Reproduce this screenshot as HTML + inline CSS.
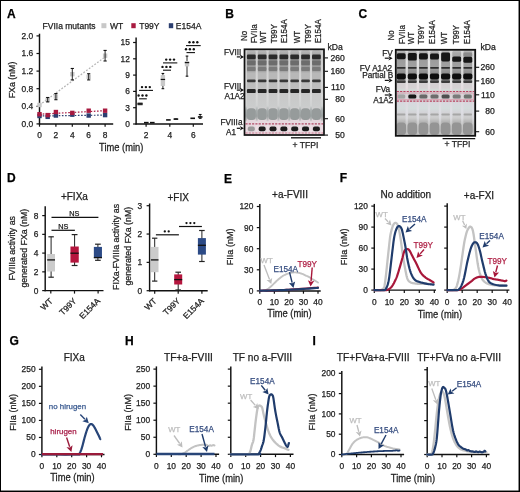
<!DOCTYPE html>
<html><head><meta charset="utf-8"><style>
html,body{margin:0;padding:0;background:#fff;}
body{width:520px;height:492px;overflow:hidden;position:relative;font-family:"Liberation Sans",sans-serif;}
svg{display:block;position:absolute;left:0;top:0;opacity:0.999;}
#frame{position:absolute;left:0;top:0;width:518px;height:490px;border:1px solid #000;}
</style></head><body>
<svg width="520" height="492" viewBox="0 0 520 492" font-family="Liberation Sans, sans-serif">
<defs><filter id="blur1" x="-5%" y="-5%" width="110%" height="110%"><feGaussianBlur stdDeviation="0.55"/></filter><linearGradient id="g1" gradientUnits="userSpaceOnUse" x1="0" y1="49.3" x2="0" y2="135.0"><stop offset="-0.0035" stop-color="#d2d2d2"/><stop offset="0.0898" stop-color="#cccccc"/><stop offset="0.1949" stop-color="#d0d0d0"/><stop offset="0.3582" stop-color="#d6d6d6"/><stop offset="0.4866" stop-color="#d0d0d0"/><stop offset="0.5333" stop-color="#d8d8d8"/><stop offset="0.6616" stop-color="#d0d2d2"/><stop offset="0.7083" stop-color="#a8aeae"/><stop offset="0.7783" stop-color="#9aa0a0"/><stop offset="0.8191" stop-color="#b8baba"/><stop offset="0.8483" stop-color="#ecdee4"/><stop offset="1.0000" stop-color="#ecdee4"/></linearGradient>
<linearGradient id="g2" gradientUnits="userSpaceOnUse" x1="0" y1="49.3" x2="0" y2="135.0"><stop offset="0.0082" stop-color="#bcbcbc"/><stop offset="0.0548" stop-color="#a8a8a8"/><stop offset="0.1249" stop-color="#909090"/><stop offset="0.1949" stop-color="#999999"/><stop offset="0.2532" stop-color="#a0a0a0"/><stop offset="0.2765" stop-color="#b8b8b8"/><stop offset="0.3466" stop-color="#b8b8b8"/><stop offset="0.3932" stop-color="#bcbcbc"/><stop offset="0.4516" stop-color="#bebebe"/><stop offset="0.5216" stop-color="#c8c8c8"/><stop offset="0.6616" stop-color="#cacccc"/><stop offset="0.8366" stop-color="#e6d8de"/><stop offset="1.0000" stop-color="#e6d8de"/></linearGradient>
<linearGradient id="g3" gradientUnits="userSpaceOnUse" x1="0" y1="49.3" x2="0" y2="135.0"><stop offset="0.0082" stop-color="#bcbcbc"/><stop offset="0.0548" stop-color="#a8a8a8"/><stop offset="0.1249" stop-color="#909090"/><stop offset="0.1949" stop-color="#999999"/><stop offset="0.2532" stop-color="#a0a0a0"/><stop offset="0.2765" stop-color="#b8b8b8"/><stop offset="0.3466" stop-color="#b8b8b8"/><stop offset="0.3932" stop-color="#bcbcbc"/><stop offset="0.4516" stop-color="#bebebe"/><stop offset="0.5216" stop-color="#c8c8c8"/><stop offset="0.6616" stop-color="#cacccc"/><stop offset="0.8366" stop-color="#e6d8de"/><stop offset="1.0000" stop-color="#e6d8de"/></linearGradient>
<linearGradient id="g4" gradientUnits="userSpaceOnUse" x1="0" y1="49.3" x2="0" y2="135.0"><stop offset="0.0082" stop-color="#bcbcbc"/><stop offset="0.0548" stop-color="#a8a8a8"/><stop offset="0.1249" stop-color="#909090"/><stop offset="0.1949" stop-color="#999999"/><stop offset="0.2532" stop-color="#a0a0a0"/><stop offset="0.2765" stop-color="#b8b8b8"/><stop offset="0.3466" stop-color="#b8b8b8"/><stop offset="0.3932" stop-color="#bcbcbc"/><stop offset="0.4516" stop-color="#bebebe"/><stop offset="0.5216" stop-color="#c8c8c8"/><stop offset="0.6616" stop-color="#cacccc"/><stop offset="0.8366" stop-color="#e6d8de"/><stop offset="1.0000" stop-color="#e6d8de"/></linearGradient>
<linearGradient id="g5" gradientUnits="userSpaceOnUse" x1="0" y1="49.3" x2="0" y2="135.0"><stop offset="0.0082" stop-color="#bcbcbc"/><stop offset="0.0548" stop-color="#a8a8a8"/><stop offset="0.1249" stop-color="#909090"/><stop offset="0.1949" stop-color="#999999"/><stop offset="0.2532" stop-color="#a0a0a0"/><stop offset="0.2765" stop-color="#b8b8b8"/><stop offset="0.3466" stop-color="#b8b8b8"/><stop offset="0.3932" stop-color="#bcbcbc"/><stop offset="0.4516" stop-color="#bebebe"/><stop offset="0.5216" stop-color="#c8c8c8"/><stop offset="0.6616" stop-color="#cacccc"/><stop offset="0.8366" stop-color="#e6d8de"/><stop offset="1.0000" stop-color="#e6d8de"/></linearGradient>
<linearGradient id="g6" gradientUnits="userSpaceOnUse" x1="0" y1="49.3" x2="0" y2="135.0"><stop offset="0.0082" stop-color="#bcbcbc"/><stop offset="0.0548" stop-color="#a8a8a8"/><stop offset="0.1249" stop-color="#909090"/><stop offset="0.1949" stop-color="#999999"/><stop offset="0.2532" stop-color="#a0a0a0"/><stop offset="0.2765" stop-color="#b8b8b8"/><stop offset="0.3466" stop-color="#b8b8b8"/><stop offset="0.3932" stop-color="#bcbcbc"/><stop offset="0.4516" stop-color="#bebebe"/><stop offset="0.5216" stop-color="#c8c8c8"/><stop offset="0.6616" stop-color="#cacccc"/><stop offset="0.8366" stop-color="#e6d8de"/><stop offset="1.0000" stop-color="#e6d8de"/></linearGradient>
<linearGradient id="g7" gradientUnits="userSpaceOnUse" x1="0" y1="49.3" x2="0" y2="135.0"><stop offset="0.0082" stop-color="#bcbcbc"/><stop offset="0.0548" stop-color="#a8a8a8"/><stop offset="0.1249" stop-color="#909090"/><stop offset="0.1949" stop-color="#999999"/><stop offset="0.2532" stop-color="#a0a0a0"/><stop offset="0.2765" stop-color="#b8b8b8"/><stop offset="0.3466" stop-color="#b8b8b8"/><stop offset="0.3932" stop-color="#bcbcbc"/><stop offset="0.4516" stop-color="#bebebe"/><stop offset="0.5216" stop-color="#c8c8c8"/><stop offset="0.6616" stop-color="#cacccc"/><stop offset="0.8366" stop-color="#e6d8de"/><stop offset="1.0000" stop-color="#e6d8de"/></linearGradient>
<linearGradient id="g8" gradientUnits="userSpaceOnUse" x1="0" y1="49.3" x2="0" y2="135.0"><stop offset="0.0082" stop-color="#bcbcbc"/><stop offset="0.0548" stop-color="#a8a8a8"/><stop offset="0.1249" stop-color="#909090"/><stop offset="0.1949" stop-color="#999999"/><stop offset="0.2532" stop-color="#a0a0a0"/><stop offset="0.2765" stop-color="#b8b8b8"/><stop offset="0.3466" stop-color="#b8b8b8"/><stop offset="0.3932" stop-color="#bcbcbc"/><stop offset="0.4516" stop-color="#bebebe"/><stop offset="0.5216" stop-color="#c8c8c8"/><stop offset="0.6616" stop-color="#cacccc"/><stop offset="0.8366" stop-color="#e6d8de"/><stop offset="1.0000" stop-color="#e6d8de"/></linearGradient>
<linearGradient id="g9" gradientUnits="userSpaceOnUse" x1="0" y1="49.8" x2="0" y2="135.8"><stop offset="0.0023" stop-color="#dcdcdc"/><stop offset="0.0721" stop-color="#d4d4d4"/><stop offset="0.1419" stop-color="#e4e4e4"/><stop offset="0.2930" stop-color="#d4d4d4"/><stop offset="0.3744" stop-color="#e4e4e4"/><stop offset="0.4442" stop-color="#e6dee2"/><stop offset="0.5256" stop-color="#dad2d6"/><stop offset="0.6070" stop-color="#dedade"/><stop offset="0.7000" stop-color="#dedee4"/><stop offset="0.7930" stop-color="#dadade"/><stop offset="0.8628" stop-color="#c8c8c8"/><stop offset="0.9326" stop-color="#bcbcbc"/><stop offset="1.0000" stop-color="#c4c4c4"/></linearGradient>
<linearGradient id="g10" gradientUnits="userSpaceOnUse" x1="0" y1="49.8" x2="0" y2="135.8"><stop offset="0.0023" stop-color="#c4c4c4"/><stop offset="0.0372" stop-color="#a8a8a8"/><stop offset="0.1186" stop-color="#9c9c9c"/><stop offset="0.1942" stop-color="#a0a0a0"/><stop offset="0.2233" stop-color="#9a9a9a"/><stop offset="0.2698" stop-color="#8c8c8c"/><stop offset="0.3744" stop-color="#909090"/><stop offset="0.3919" stop-color="#d4d0d2"/><stop offset="0.4442" stop-color="#d6d2d4"/><stop offset="0.4616" stop-color="#d4dad8"/><stop offset="0.5023" stop-color="#ccc8cc"/><stop offset="0.5837" stop-color="#d0ccd0"/><stop offset="0.6186" stop-color="#d8d8de"/><stop offset="0.6826" stop-color="#d4dcdc"/><stop offset="0.7233" stop-color="#d4d4d8"/><stop offset="0.7930" stop-color="#cccccc"/><stop offset="0.8395" stop-color="#b4b4b4"/><stop offset="1.0000" stop-color="#b0b0b0"/></linearGradient>
<linearGradient id="g11" gradientUnits="userSpaceOnUse" x1="0" y1="49.8" x2="0" y2="135.8"><stop offset="0.0023" stop-color="#c4c4c4"/><stop offset="0.0372" stop-color="#a8a8a8"/><stop offset="0.1186" stop-color="#9c9c9c"/><stop offset="0.1942" stop-color="#a0a0a0"/><stop offset="0.2233" stop-color="#9a9a9a"/><stop offset="0.2698" stop-color="#8c8c8c"/><stop offset="0.3744" stop-color="#909090"/><stop offset="0.3919" stop-color="#d4d0d2"/><stop offset="0.4442" stop-color="#d6d2d4"/><stop offset="0.4616" stop-color="#d4dad8"/><stop offset="0.5023" stop-color="#ccc8cc"/><stop offset="0.5837" stop-color="#d0ccd0"/><stop offset="0.6186" stop-color="#d8d8de"/><stop offset="0.6826" stop-color="#d4dcdc"/><stop offset="0.7233" stop-color="#d4d4d8"/><stop offset="0.7930" stop-color="#cccccc"/><stop offset="0.8395" stop-color="#b4b4b4"/><stop offset="1.0000" stop-color="#b0b0b0"/></linearGradient>
<linearGradient id="g12" gradientUnits="userSpaceOnUse" x1="0" y1="49.8" x2="0" y2="135.8"><stop offset="0.0023" stop-color="#c4c4c4"/><stop offset="0.0372" stop-color="#a8a8a8"/><stop offset="0.1186" stop-color="#9c9c9c"/><stop offset="0.1942" stop-color="#a0a0a0"/><stop offset="0.2233" stop-color="#9a9a9a"/><stop offset="0.2698" stop-color="#8c8c8c"/><stop offset="0.3744" stop-color="#909090"/><stop offset="0.3919" stop-color="#d4d0d2"/><stop offset="0.4442" stop-color="#d6d2d4"/><stop offset="0.4616" stop-color="#d4dad8"/><stop offset="0.5023" stop-color="#ccc8cc"/><stop offset="0.5837" stop-color="#d0ccd0"/><stop offset="0.6186" stop-color="#d8d8de"/><stop offset="0.6826" stop-color="#d4dcdc"/><stop offset="0.7233" stop-color="#d4d4d8"/><stop offset="0.7930" stop-color="#cccccc"/><stop offset="0.8395" stop-color="#b4b4b4"/><stop offset="1.0000" stop-color="#b0b0b0"/></linearGradient>
<linearGradient id="g13" gradientUnits="userSpaceOnUse" x1="0" y1="49.8" x2="0" y2="135.8"><stop offset="0.0023" stop-color="#c4c4c4"/><stop offset="0.0372" stop-color="#a8a8a8"/><stop offset="0.1186" stop-color="#9c9c9c"/><stop offset="0.1942" stop-color="#a0a0a0"/><stop offset="0.2233" stop-color="#9a9a9a"/><stop offset="0.2698" stop-color="#8c8c8c"/><stop offset="0.3744" stop-color="#909090"/><stop offset="0.3919" stop-color="#d4d0d2"/><stop offset="0.4442" stop-color="#d6d2d4"/><stop offset="0.4616" stop-color="#d4dad8"/><stop offset="0.5023" stop-color="#ccc8cc"/><stop offset="0.5837" stop-color="#d0ccd0"/><stop offset="0.6186" stop-color="#d8d8de"/><stop offset="0.6826" stop-color="#d4dcdc"/><stop offset="0.7233" stop-color="#d4d4d8"/><stop offset="0.7930" stop-color="#cccccc"/><stop offset="0.8395" stop-color="#b4b4b4"/><stop offset="1.0000" stop-color="#b0b0b0"/></linearGradient>
<linearGradient id="g14" gradientUnits="userSpaceOnUse" x1="0" y1="49.8" x2="0" y2="135.8"><stop offset="0.0023" stop-color="#c4c4c4"/><stop offset="0.0372" stop-color="#a8a8a8"/><stop offset="0.1186" stop-color="#9c9c9c"/><stop offset="0.1942" stop-color="#a0a0a0"/><stop offset="0.2233" stop-color="#9a9a9a"/><stop offset="0.2698" stop-color="#8c8c8c"/><stop offset="0.3744" stop-color="#909090"/><stop offset="0.3919" stop-color="#d4d0d2"/><stop offset="0.4442" stop-color="#d6d2d4"/><stop offset="0.4616" stop-color="#d4dad8"/><stop offset="0.5023" stop-color="#ccc8cc"/><stop offset="0.5837" stop-color="#d0ccd0"/><stop offset="0.6186" stop-color="#d8d8de"/><stop offset="0.6826" stop-color="#d4dcdc"/><stop offset="0.7233" stop-color="#d4d4d8"/><stop offset="0.7930" stop-color="#cccccc"/><stop offset="0.8395" stop-color="#b4b4b4"/><stop offset="1.0000" stop-color="#b0b0b0"/></linearGradient>
<linearGradient id="g15" gradientUnits="userSpaceOnUse" x1="0" y1="49.8" x2="0" y2="135.8"><stop offset="0.0023" stop-color="#c4c4c4"/><stop offset="0.0372" stop-color="#a8a8a8"/><stop offset="0.1186" stop-color="#9c9c9c"/><stop offset="0.1942" stop-color="#a0a0a0"/><stop offset="0.2233" stop-color="#9a9a9a"/><stop offset="0.2698" stop-color="#8c8c8c"/><stop offset="0.3744" stop-color="#909090"/><stop offset="0.3919" stop-color="#d4d0d2"/><stop offset="0.4442" stop-color="#d6d2d4"/><stop offset="0.4616" stop-color="#d4dad8"/><stop offset="0.5023" stop-color="#ccc8cc"/><stop offset="0.5837" stop-color="#d0ccd0"/><stop offset="0.6186" stop-color="#d8d8de"/><stop offset="0.6826" stop-color="#d4dcdc"/><stop offset="0.7233" stop-color="#d4d4d8"/><stop offset="0.7930" stop-color="#cccccc"/><stop offset="0.8395" stop-color="#b4b4b4"/><stop offset="1.0000" stop-color="#b0b0b0"/></linearGradient>
<linearGradient id="g16" gradientUnits="userSpaceOnUse" x1="0" y1="49.8" x2="0" y2="135.8"><stop offset="0.0023" stop-color="#c4c4c4"/><stop offset="0.0372" stop-color="#a8a8a8"/><stop offset="0.1186" stop-color="#9c9c9c"/><stop offset="0.1942" stop-color="#a0a0a0"/><stop offset="0.2233" stop-color="#9a9a9a"/><stop offset="0.2698" stop-color="#8c8c8c"/><stop offset="0.3744" stop-color="#909090"/><stop offset="0.3919" stop-color="#d4d0d2"/><stop offset="0.4442" stop-color="#d6d2d4"/><stop offset="0.4616" stop-color="#d4dad8"/><stop offset="0.5023" stop-color="#ccc8cc"/><stop offset="0.5837" stop-color="#d0ccd0"/><stop offset="0.6186" stop-color="#d8d8de"/><stop offset="0.6826" stop-color="#d4dcdc"/><stop offset="0.7233" stop-color="#d4d4d8"/><stop offset="0.7930" stop-color="#cccccc"/><stop offset="0.8395" stop-color="#b4b4b4"/><stop offset="1.0000" stop-color="#b0b0b0"/></linearGradient></defs>
<rect x="0.00" y="0.00" width="520.00" height="492.00" fill="#fff"/>
<text x="7.10" y="17.90" font-size="12.0" text-anchor="start" fill="#000" stroke="#000" stroke-width="0.25" font-weight="bold">A</text>
<text x="42.60" y="28.80" font-size="8.5" text-anchor="start" fill="#222" stroke="#222" stroke-width="0.25">FVIIa mutants</text>
<rect x="101.40" y="23.20" width="5.00" height="5.00" fill="#c8c8c8"/>
<text x="110.00" y="28.80" font-size="8.5" text-anchor="start" fill="#222" stroke="#222" stroke-width="0.25">WT</text>
<rect x="131.30" y="23.20" width="4.40" height="5.00" fill="#a81a40"/>
<text x="139.20" y="28.80" font-size="8.5" text-anchor="start" fill="#222" stroke="#222" stroke-width="0.25">T99Y</text>
<rect x="168.80" y="23.20" width="4.40" height="5.00" fill="#2c3f70"/>
<text x="175.80" y="28.80" font-size="8.5" text-anchor="start" fill="#222" stroke="#222" stroke-width="0.25">E154A</text>
<line x1="39.50" y1="33.70" x2="39.50" y2="124.50" stroke="#111" stroke-width="1.45"/>
<line x1="36.50" y1="35.90" x2="39.50" y2="35.90" stroke="#111" stroke-width="1.2"/>
<text x="33.20" y="38.80" font-size="8.4" text-anchor="end" fill="#222" stroke="#222" stroke-width="0.25">2.0</text>
<line x1="36.50" y1="53.50" x2="39.50" y2="53.50" stroke="#111" stroke-width="1.2"/>
<text x="33.20" y="56.40" font-size="8.4" text-anchor="end" fill="#222" stroke="#222" stroke-width="0.25">1.6</text>
<line x1="36.50" y1="71.10" x2="39.50" y2="71.10" stroke="#111" stroke-width="1.2"/>
<text x="33.20" y="74.00" font-size="8.4" text-anchor="end" fill="#222" stroke="#222" stroke-width="0.25">1.2</text>
<line x1="36.50" y1="88.70" x2="39.50" y2="88.70" stroke="#111" stroke-width="1.2"/>
<text x="33.20" y="91.60" font-size="8.4" text-anchor="end" fill="#222" stroke="#222" stroke-width="0.25">0.8</text>
<line x1="36.50" y1="106.30" x2="39.50" y2="106.30" stroke="#111" stroke-width="1.2"/>
<text x="33.20" y="109.20" font-size="8.4" text-anchor="end" fill="#222" stroke="#222" stroke-width="0.25">0.4</text>
<line x1="36.50" y1="123.90" x2="39.50" y2="123.90" stroke="#111" stroke-width="1.2"/>
<text x="33.20" y="126.80" font-size="8.4" text-anchor="end" fill="#222" stroke="#222" stroke-width="0.25">0.0</text>
<line x1="38.90" y1="123.90" x2="113.20" y2="123.90" stroke="#111" stroke-width="1.45"/>
<line x1="39.50" y1="123.90" x2="39.50" y2="126.70" stroke="#111" stroke-width="1.2"/>
<text x="39.50" y="137.60" font-size="8.4" text-anchor="middle" fill="#222" stroke="#222" stroke-width="0.25">0</text>
<line x1="55.90" y1="123.90" x2="55.90" y2="126.70" stroke="#111" stroke-width="1.2"/>
<text x="55.90" y="137.60" font-size="8.4" text-anchor="middle" fill="#222" stroke="#222" stroke-width="0.25">2</text>
<line x1="72.30" y1="123.90" x2="72.30" y2="126.70" stroke="#111" stroke-width="1.2"/>
<text x="72.30" y="137.60" font-size="8.4" text-anchor="middle" fill="#222" stroke="#222" stroke-width="0.25">4</text>
<line x1="88.70" y1="123.90" x2="88.70" y2="126.70" stroke="#111" stroke-width="1.2"/>
<text x="88.70" y="137.60" font-size="8.4" text-anchor="middle" fill="#222" stroke="#222" stroke-width="0.25">6</text>
<line x1="105.10" y1="123.90" x2="105.10" y2="126.70" stroke="#111" stroke-width="1.2"/>
<text x="105.10" y="137.60" font-size="8.4" text-anchor="middle" fill="#222" stroke="#222" stroke-width="0.25">8</text>
<text x="15.00" y="80.00" font-size="8.8" text-anchor="middle" fill="#222" stroke="#222" stroke-width="0.25" transform="rotate(-90 15.00 80.00)">FXa (nM)</text>
<line x1="39.50" y1="104.98" x2="105.10" y2="57.02" stroke="#b4b4b4" stroke-width="1.25" stroke-dasharray="1.8,1.6"/>
<line x1="39.50" y1="114.22" x2="105.10" y2="110.70" stroke="#a81a40" stroke-width="1.2" stroke-dasharray="1.6,1.6"/>
<line x1="39.50" y1="115.98" x2="105.10" y2="115.10" stroke="#2c3f70" stroke-width="1.2" stroke-dasharray="1.6,1.6"/>
<rect x="37.30" y="113.78" width="4.40" height="4.40" fill="#2c3f70"/>
<rect x="45.50" y="114.66" width="4.40" height="4.40" fill="#2c3f70"/>
<rect x="53.70" y="113.34" width="4.40" height="4.40" fill="#2c3f70"/>
<rect x="70.10" y="112.46" width="4.40" height="4.40" fill="#2c3f70"/>
<rect x="86.50" y="113.34" width="4.40" height="4.40" fill="#2c3f70"/>
<rect x="102.90" y="112.90" width="4.40" height="4.40" fill="#2c3f70"/>
<rect x="37.30" y="112.02" width="4.40" height="4.40" fill="#a81a40"/>
<rect x="45.50" y="112.90" width="4.40" height="4.40" fill="#a81a40"/>
<rect x="53.70" y="109.82" width="4.40" height="4.40" fill="#a81a40"/>
<rect x="70.10" y="110.70" width="4.40" height="4.40" fill="#a81a40"/>
<rect x="86.50" y="108.50" width="4.40" height="4.40" fill="#a81a40"/>
<rect x="102.90" y="108.50" width="4.40" height="4.40" fill="#a81a40"/>
<rect x="37.30" y="102.78" width="4.40" height="4.40" fill="#c8c8c8"/>
<rect x="45.50" y="97.50" width="4.40" height="4.40" fill="#c8c8c8"/>
<line x1="47.70" y1="97.50" x2="47.70" y2="101.90" stroke="#111" stroke-width="0.9"/>
<line x1="46.10" y1="97.50" x2="49.30" y2="97.50" stroke="#111" stroke-width="1.1"/>
<line x1="46.10" y1="101.90" x2="49.30" y2="101.90" stroke="#111" stroke-width="1.1"/>
<rect x="53.70" y="94.42" width="4.40" height="4.40" fill="#c8c8c8"/>
<line x1="55.90" y1="93.54" x2="55.90" y2="99.70" stroke="#111" stroke-width="0.9"/>
<line x1="54.30" y1="93.54" x2="57.50" y2="93.54" stroke="#111" stroke-width="1.1"/>
<line x1="54.30" y1="99.70" x2="57.50" y2="99.70" stroke="#111" stroke-width="1.1"/>
<rect x="70.10" y="71.98" width="4.40" height="4.40" fill="#c8c8c8"/>
<line x1="72.30" y1="68.46" x2="72.30" y2="79.90" stroke="#111" stroke-width="0.9"/>
<line x1="70.70" y1="68.46" x2="73.90" y2="68.46" stroke="#111" stroke-width="1.1"/>
<line x1="70.70" y1="79.90" x2="73.90" y2="79.90" stroke="#111" stroke-width="1.1"/>
<rect x="86.50" y="74.62" width="4.40" height="4.40" fill="#c8c8c8"/>
<line x1="88.70" y1="73.74" x2="88.70" y2="79.90" stroke="#111" stroke-width="0.9"/>
<line x1="87.10" y1="73.74" x2="90.30" y2="73.74" stroke="#111" stroke-width="1.1"/>
<line x1="87.10" y1="79.90" x2="90.30" y2="79.90" stroke="#111" stroke-width="1.1"/>
<rect x="102.90" y="53.50" width="4.40" height="4.40" fill="#c8c8c8"/>
<line x1="105.10" y1="50.42" x2="105.10" y2="60.98" stroke="#111" stroke-width="0.9"/>
<line x1="103.50" y1="50.42" x2="106.70" y2="50.42" stroke="#111" stroke-width="1.1"/>
<line x1="103.50" y1="60.98" x2="106.70" y2="60.98" stroke="#111" stroke-width="1.1"/>
<line x1="136.10" y1="37.60" x2="136.10" y2="124.60" stroke="#111" stroke-width="1.45"/>
<line x1="133.10" y1="42.50" x2="136.10" y2="42.50" stroke="#111" stroke-width="1.2"/>
<text x="129.80" y="45.40" font-size="8.4" text-anchor="end" fill="#222" stroke="#222" stroke-width="0.25">15</text>
<line x1="133.10" y1="58.80" x2="136.10" y2="58.80" stroke="#111" stroke-width="1.2"/>
<text x="129.80" y="61.70" font-size="8.4" text-anchor="end" fill="#222" stroke="#222" stroke-width="0.25">12</text>
<line x1="133.10" y1="75.10" x2="136.10" y2="75.10" stroke="#111" stroke-width="1.2"/>
<text x="129.80" y="78.00" font-size="8.4" text-anchor="end" fill="#222" stroke="#222" stroke-width="0.25">9</text>
<line x1="133.10" y1="91.40" x2="136.10" y2="91.40" stroke="#111" stroke-width="1.2"/>
<text x="129.80" y="94.30" font-size="8.4" text-anchor="end" fill="#222" stroke="#222" stroke-width="0.25">6</text>
<line x1="133.10" y1="107.70" x2="136.10" y2="107.70" stroke="#111" stroke-width="1.2"/>
<text x="129.80" y="110.60" font-size="8.4" text-anchor="end" fill="#222" stroke="#222" stroke-width="0.25">3</text>
<line x1="133.10" y1="124.00" x2="136.10" y2="124.00" stroke="#111" stroke-width="1.2"/>
<text x="129.80" y="126.90" font-size="8.4" text-anchor="end" fill="#222" stroke="#222" stroke-width="0.25">0</text>
<line x1="135.50" y1="124.00" x2="203.00" y2="124.00" stroke="#111" stroke-width="1.45"/>
<line x1="146.10" y1="124.00" x2="146.10" y2="126.80" stroke="#111" stroke-width="1.2"/>
<text x="146.10" y="137.60" font-size="8.4" text-anchor="middle" fill="#222" stroke="#222" stroke-width="0.25">2</text>
<line x1="169.80" y1="124.00" x2="169.80" y2="126.80" stroke="#111" stroke-width="1.2"/>
<text x="169.80" y="137.60" font-size="8.4" text-anchor="middle" fill="#222" stroke="#222" stroke-width="0.25">4</text>
<line x1="193.30" y1="124.00" x2="193.30" y2="126.80" stroke="#111" stroke-width="1.2"/>
<text x="193.30" y="137.60" font-size="8.4" text-anchor="middle" fill="#222" stroke="#222" stroke-width="0.25">6</text>
<text x="0" y="0" font-size="10.0" text-anchor="middle" fill="#222" stroke="#222" stroke-width="0.25" transform="translate(121.20 151.00) scale(0.935 1)">Time (min)</text>
<rect x="137.60" y="102.54" width="5.00" height="2.72" fill="#444"/>
<line x1="137.40" y1="103.90" x2="142.60" y2="103.90" stroke="#111" stroke-width="1.2"/>
<line x1="162.90" y1="88.68" x2="162.90" y2="73.47" stroke="#111" stroke-width="0.9"/>
<rect x="160.70" y="75.10" width="4.40" height="10.87" fill="#c8c8c8"/>
<line x1="160.70" y1="79.45" x2="165.10" y2="79.45" stroke="#111" stroke-width="1.2"/>
<line x1="161.58" y1="88.68" x2="164.22" y2="88.68" stroke="#111" stroke-width="1.1"/>
<line x1="161.58" y1="73.47" x2="164.22" y2="73.47" stroke="#111" stroke-width="1.1"/>
<line x1="187.00" y1="76.19" x2="187.00" y2="56.08" stroke="#111" stroke-width="0.9"/>
<rect x="184.80" y="60.97" width="4.40" height="5.43" fill="#c8c8c8"/>
<line x1="184.80" y1="62.60" x2="189.20" y2="62.60" stroke="#111" stroke-width="1.2"/>
<line x1="185.68" y1="76.19" x2="188.32" y2="76.19" stroke="#111" stroke-width="1.1"/>
<line x1="185.68" y1="56.08" x2="188.32" y2="56.08" stroke="#111" stroke-width="1.1"/>
<line x1="144.00" y1="122.64" x2="148.60" y2="122.64" stroke="#111" stroke-width="1.6"/>
<line x1="150.00" y1="122.64" x2="154.60" y2="122.64" stroke="#111" stroke-width="1.6"/>
<line x1="166.10" y1="119.92" x2="170.70" y2="119.92" stroke="#111" stroke-width="1.6"/>
<line x1="173.60" y1="119.11" x2="178.20" y2="119.11" stroke="#111" stroke-width="1.6"/>
<line x1="190.40" y1="118.30" x2="195.00" y2="118.30" stroke="#111" stroke-width="1.6"/>
<line x1="197.90" y1="116.94" x2="202.50" y2="116.94" stroke="#111" stroke-width="1.6"/>
<line x1="200.20" y1="118.30" x2="200.20" y2="114.49" stroke="#111" stroke-width="0.9"/>
<line x1="198.80" y1="114.49" x2="201.60" y2="114.49" stroke="#111" stroke-width="1.1"/>
<line x1="198.80" y1="118.30" x2="201.60" y2="118.30" stroke="#111" stroke-width="1.1"/>
<rect x="174.40" y="118.30" width="3.00" height="1.40" fill="#222"/>
<line x1="139.10" y1="98.80" x2="146.80" y2="98.80" stroke="#111" stroke-width="1.1"/>
<circle cx="138.60" cy="95.50" r="1.2" fill="#111"/>
<circle cx="142.50" cy="95.50" r="1.2" fill="#111"/>
<circle cx="146.40" cy="95.50" r="1.2" fill="#111"/>
<line x1="139.10" y1="90.40" x2="153.00" y2="90.40" stroke="#111" stroke-width="1.1"/>
<circle cx="142.00" cy="87.10" r="1.2" fill="#111"/>
<circle cx="145.90" cy="87.10" r="1.2" fill="#111"/>
<circle cx="149.80" cy="87.10" r="1.2" fill="#111"/>
<line x1="163.00" y1="70.20" x2="171.00" y2="70.20" stroke="#111" stroke-width="1.1"/>
<circle cx="162.50" cy="66.90" r="1.2" fill="#111"/>
<circle cx="166.40" cy="66.90" r="1.2" fill="#111"/>
<circle cx="170.30" cy="66.90" r="1.2" fill="#111"/>
<line x1="163.00" y1="62.90" x2="177.30" y2="62.90" stroke="#111" stroke-width="1.1"/>
<circle cx="166.20" cy="59.60" r="1.2" fill="#111"/>
<circle cx="170.10" cy="59.60" r="1.2" fill="#111"/>
<circle cx="174.00" cy="59.60" r="1.2" fill="#111"/>
<line x1="186.50" y1="52.60" x2="195.00" y2="52.60" stroke="#111" stroke-width="1.1"/>
<circle cx="186.00" cy="49.30" r="1.2" fill="#111"/>
<circle cx="189.90" cy="49.30" r="1.2" fill="#111"/>
<circle cx="193.80" cy="49.30" r="1.2" fill="#111"/>
<line x1="186.00" y1="45.60" x2="200.70" y2="45.60" stroke="#111" stroke-width="1.1"/>
<circle cx="189.50" cy="42.30" r="1.2" fill="#111"/>
<circle cx="193.40" cy="42.30" r="1.2" fill="#111"/>
<circle cx="197.30" cy="42.30" r="1.2" fill="#111"/>
<text x="225.30" y="18.00" font-size="12.0" text-anchor="start" fill="#000" stroke="#000" stroke-width="0.25" font-weight="bold">B</text>
<text x="0" y="0" font-size="8.8" text-anchor="middle" fill="#222" stroke="#222" stroke-width="0.25" transform="translate(246.80 35.80) rotate(-90) scale(0.91 1)">No</text>
<text x="0" y="0" font-size="8.8" text-anchor="start" fill="#222" stroke="#222" stroke-width="0.25" transform="translate(256.60 43.30) rotate(-90) scale(0.91 1)">FVIIa</text>
<text x="0" y="0" font-size="8.8" text-anchor="start" fill="#222" stroke="#222" stroke-width="0.25" transform="translate(266.30 43.30) rotate(-90) scale(0.91 1)">WT</text>
<text x="0" y="0" font-size="8.8" text-anchor="start" fill="#222" stroke="#222" stroke-width="0.25" transform="translate(276.90 43.30) rotate(-90) scale(0.91 1)">T99Y</text>
<text x="0" y="0" font-size="8.8" text-anchor="start" fill="#222" stroke="#222" stroke-width="0.25" transform="translate(287.20 43.30) rotate(-90) scale(0.91 1)">E154A</text>
<text x="0" y="0" font-size="8.8" text-anchor="start" fill="#222" stroke="#222" stroke-width="0.25" transform="translate(300.00 43.30) rotate(-90) scale(0.91 1)">WT</text>
<text x="0" y="0" font-size="8.8" text-anchor="start" fill="#222" stroke="#222" stroke-width="0.25" transform="translate(310.60 43.30) rotate(-90) scale(0.91 1)">T99Y</text>
<text x="0" y="0" font-size="8.8" text-anchor="start" fill="#222" stroke="#222" stroke-width="0.25" transform="translate(321.20 43.30) rotate(-90) scale(0.91 1)">E154A</text>
<rect x="244.50" y="49.30" width="79.50" height="85.70" fill="url(#g1)"/>
<g filter="url(#blur1)">
<rect x="246.90" y="50.10" width="8.80" height="84.10" fill="url(#g2)" rx="2"/>
<rect x="246.90" y="54.60" width="8.80" height="4.60" fill="#2c2c2c" rx="1.2"/>
<rect x="247.00" y="60.40" width="8.60" height="4.80" fill="#6c6c6c" rx="1.0"/>
<rect x="247.00" y="67.00" width="8.60" height="4.00" fill="#7a7a7a" rx="1.0"/>
<rect x="247.00" y="79.40" width="8.60" height="2.80" fill="#383838" rx="1.0"/>
<rect x="246.90" y="88.90" width="8.80" height="4.20" fill="#262626" rx="1.2"/>
<rect x="246.70" y="108.20" width="9.20" height="11.80" fill="#969b9b" rx="3.5"/>
<rect x="247.80" y="126.40" width="7.00" height="4.80" fill="#989898" rx="2.0"/>
<rect x="257.75" y="50.10" width="8.80" height="84.10" fill="url(#g3)" rx="2"/>
<rect x="257.75" y="54.60" width="8.80" height="4.60" fill="#2c2c2c" rx="1.2"/>
<rect x="257.85" y="60.40" width="8.60" height="4.80" fill="#6c6c6c" rx="1.0"/>
<rect x="257.85" y="67.00" width="8.60" height="4.00" fill="#7a7a7a" rx="1.0"/>
<rect x="257.85" y="79.40" width="8.60" height="2.80" fill="#383838" rx="1.0"/>
<rect x="257.75" y="88.90" width="8.80" height="4.20" fill="#262626" rx="1.2"/>
<rect x="257.55" y="108.20" width="9.20" height="11.80" fill="#969b9b" rx="3.5"/>
<rect x="258.65" y="126.40" width="7.00" height="4.80" fill="#1c1c1c" rx="2.0"/>
<rect x="268.60" y="50.10" width="8.80" height="84.10" fill="url(#g4)" rx="2"/>
<rect x="268.60" y="54.60" width="8.80" height="4.60" fill="#2c2c2c" rx="1.2"/>
<rect x="268.70" y="60.40" width="8.60" height="4.80" fill="#6c6c6c" rx="1.0"/>
<rect x="268.70" y="67.00" width="8.60" height="4.00" fill="#7a7a7a" rx="1.0"/>
<rect x="268.70" y="79.40" width="8.60" height="2.80" fill="#383838" rx="1.0"/>
<rect x="268.60" y="88.90" width="8.80" height="4.20" fill="#262626" rx="1.2"/>
<rect x="268.40" y="108.20" width="9.20" height="11.80" fill="#969b9b" rx="3.5"/>
<rect x="269.50" y="126.40" width="7.00" height="4.80" fill="#1c1c1c" rx="2.0"/>
<rect x="279.45" y="50.10" width="8.80" height="84.10" fill="url(#g5)" rx="2"/>
<rect x="279.45" y="54.60" width="8.80" height="4.60" fill="#2c2c2c" rx="1.2"/>
<rect x="279.55" y="60.40" width="8.60" height="4.80" fill="#6c6c6c" rx="1.0"/>
<rect x="279.55" y="67.00" width="8.60" height="4.00" fill="#7a7a7a" rx="1.0"/>
<rect x="279.55" y="79.40" width="8.60" height="2.80" fill="#383838" rx="1.0"/>
<rect x="279.45" y="88.90" width="8.80" height="4.20" fill="#262626" rx="1.2"/>
<rect x="279.25" y="108.20" width="9.20" height="11.80" fill="#969b9b" rx="3.5"/>
<rect x="280.35" y="126.40" width="7.00" height="4.80" fill="#1c1c1c" rx="2.0"/>
<rect x="290.30" y="50.10" width="8.80" height="84.10" fill="url(#g6)" rx="2"/>
<rect x="290.30" y="54.60" width="8.80" height="4.60" fill="#2c2c2c" rx="1.2"/>
<rect x="290.40" y="60.40" width="8.60" height="4.80" fill="#6c6c6c" rx="1.0"/>
<rect x="290.40" y="67.00" width="8.60" height="4.00" fill="#7a7a7a" rx="1.0"/>
<rect x="290.40" y="79.40" width="8.60" height="2.80" fill="#383838" rx="1.0"/>
<rect x="290.30" y="88.90" width="8.80" height="4.20" fill="#262626" rx="1.2"/>
<rect x="290.10" y="108.20" width="9.20" height="11.80" fill="#969b9b" rx="3.5"/>
<rect x="291.20" y="126.40" width="7.00" height="4.80" fill="#1c1c1c" rx="2.0"/>
<rect x="301.15" y="50.10" width="8.80" height="84.10" fill="url(#g7)" rx="2"/>
<rect x="301.15" y="54.60" width="8.80" height="4.60" fill="#2c2c2c" rx="1.2"/>
<rect x="301.25" y="60.40" width="8.60" height="4.80" fill="#6c6c6c" rx="1.0"/>
<rect x="301.25" y="67.00" width="8.60" height="4.00" fill="#7a7a7a" rx="1.0"/>
<rect x="301.25" y="79.40" width="8.60" height="2.80" fill="#383838" rx="1.0"/>
<rect x="301.15" y="88.90" width="8.80" height="4.20" fill="#262626" rx="1.2"/>
<rect x="300.95" y="108.20" width="9.20" height="11.80" fill="#969b9b" rx="3.5"/>
<rect x="302.05" y="126.40" width="7.00" height="4.80" fill="#1c1c1c" rx="2.0"/>
<rect x="312.00" y="50.10" width="8.80" height="84.10" fill="url(#g8)" rx="2"/>
<rect x="312.00" y="54.60" width="8.80" height="4.60" fill="#2c2c2c" rx="1.2"/>
<rect x="312.10" y="60.40" width="8.60" height="4.80" fill="#6c6c6c" rx="1.0"/>
<rect x="312.10" y="67.00" width="8.60" height="4.00" fill="#7a7a7a" rx="1.0"/>
<rect x="312.10" y="79.40" width="8.60" height="2.80" fill="#383838" rx="1.0"/>
<rect x="312.00" y="88.90" width="8.80" height="4.20" fill="#262626" rx="1.2"/>
<rect x="311.80" y="108.20" width="9.20" height="11.80" fill="#969b9b" rx="3.5"/>
<rect x="312.90" y="126.40" width="7.00" height="4.80" fill="#1c1c1c" rx="2.0"/>
</g>
<line x1="245.50" y1="123.80" x2="323.00" y2="123.80" stroke="#b04a66" stroke-width="1.2" stroke-dasharray="2.1,1.2"/>
<line x1="245.50" y1="133.00" x2="323.00" y2="133.00" stroke="#d07890" stroke-width="1.0" stroke-dasharray="2.1,1.2"/>
<rect x="244.50" y="49.30" width="79.50" height="85.70" fill="none" stroke="#111" stroke-width="1.7"/>
<line x1="324.60" y1="57.90" x2="328.00" y2="57.90" stroke="#111" stroke-width="1.1"/>
<text x="344.80" y="60.90" font-size="8.6" text-anchor="end" fill="#222" stroke="#222" stroke-width="0.25">260</text>
<line x1="324.60" y1="71.30" x2="328.00" y2="71.30" stroke="#111" stroke-width="1.1"/>
<text x="344.80" y="74.30" font-size="8.6" text-anchor="end" fill="#222" stroke="#222" stroke-width="0.25">160</text>
<line x1="324.60" y1="87.40" x2="328.00" y2="87.40" stroke="#111" stroke-width="1.1"/>
<text x="344.80" y="90.40" font-size="8.6" text-anchor="end" fill="#222" stroke="#222" stroke-width="0.25">110</text>
<line x1="324.60" y1="99.30" x2="328.00" y2="99.30" stroke="#111" stroke-width="1.1"/>
<text x="344.80" y="102.30" font-size="8.6" text-anchor="end" fill="#222" stroke="#222" stroke-width="0.25">80</text>
<line x1="324.60" y1="118.70" x2="328.00" y2="118.70" stroke="#111" stroke-width="1.1"/>
<text x="344.80" y="121.70" font-size="8.6" text-anchor="end" fill="#222" stroke="#222" stroke-width="0.25">60</text>
<line x1="324.60" y1="135.10" x2="328.00" y2="135.10" stroke="#111" stroke-width="1.1"/>
<text x="344.80" y="138.10" font-size="8.6" text-anchor="end" fill="#222" stroke="#222" stroke-width="0.25">50</text>
<text x="342.80" y="50.40" font-size="8.6" text-anchor="end" fill="#222" stroke="#222" stroke-width="0.25">kDa</text>
<line x1="291.00" y1="137.80" x2="321.00" y2="137.80" stroke="#111" stroke-width="1.3"/>
<text x="305.50" y="147.80" font-size="8.6" text-anchor="middle" fill="#222" stroke="#222" stroke-width="0.25">+ TFPI</text>
<text x="224.00" y="55.20" font-size="8.2" text-anchor="start" fill="#222" stroke="#222" stroke-width="0.25">FVIII</text>
<text x="224.00" y="88.70" font-size="8.2" text-anchor="start" fill="#222" stroke="#222" stroke-width="0.25">FVIII</text>
<text x="224.60" y="98.90" font-size="8.2" text-anchor="start" fill="#222" stroke="#222" stroke-width="0.25">A1A2</text>
<text x="220.60" y="125.30" font-size="8.2" text-anchor="start" fill="#222" stroke="#222" stroke-width="0.25">FVIIIa</text>
<text x="226.00" y="135.40" font-size="8.2" text-anchor="start" fill="#222" stroke="#222" stroke-width="0.25">A1</text>
<line x1="236.80" y1="56.90" x2="240.30" y2="56.90" stroke="#111" stroke-width="1.2"/>
<path d="M244.00,56.90 L239.80,59.20 L241.00,56.90 L239.80,54.60 Z" fill="#111"/>
<line x1="236.80" y1="90.10" x2="240.30" y2="90.10" stroke="#111" stroke-width="1.2"/>
<path d="M244.00,90.10 L239.80,92.40 L241.00,90.10 L239.80,87.80 Z" fill="#111"/>
<line x1="236.80" y1="128.30" x2="240.30" y2="128.30" stroke="#111" stroke-width="1.2"/>
<path d="M244.00,128.30 L239.80,130.60 L241.00,128.30 L239.80,126.00 Z" fill="#111"/>
<text x="358.40" y="18.20" font-size="12.0" text-anchor="start" fill="#000" stroke="#000" stroke-width="0.25" font-weight="bold">C</text>
<text x="0" y="0" font-size="8.8" text-anchor="middle" fill="#222" stroke="#222" stroke-width="0.25" transform="translate(394.20 35.30) rotate(-90) scale(0.91 1)">No</text>
<text x="0" y="0" font-size="8.8" text-anchor="start" fill="#222" stroke="#222" stroke-width="0.25" transform="translate(404.50 44.20) rotate(-90) scale(0.91 1)">FVIIa</text>
<text x="0" y="0" font-size="8.8" text-anchor="start" fill="#222" stroke="#222" stroke-width="0.25" transform="translate(414.20 44.20) rotate(-90) scale(0.91 1)">WT</text>
<text x="0" y="0" font-size="8.8" text-anchor="start" fill="#222" stroke="#222" stroke-width="0.25" transform="translate(424.30 44.20) rotate(-90) scale(0.91 1)">T99Y</text>
<text x="0" y="0" font-size="8.8" text-anchor="start" fill="#222" stroke="#222" stroke-width="0.25" transform="translate(434.60 44.20) rotate(-90) scale(0.91 1)">E154A</text>
<text x="0" y="0" font-size="8.8" text-anchor="start" fill="#222" stroke="#222" stroke-width="0.25" transform="translate(447.30 44.20) rotate(-90) scale(0.91 1)">WT</text>
<text x="0" y="0" font-size="8.8" text-anchor="start" fill="#222" stroke="#222" stroke-width="0.25" transform="translate(459.00 44.20) rotate(-90) scale(0.91 1)">T99Y</text>
<text x="0" y="0" font-size="8.8" text-anchor="start" fill="#222" stroke="#222" stroke-width="0.25" transform="translate(469.60 44.20) rotate(-90) scale(0.91 1)">E154A</text>
<rect x="395.80" y="49.80" width="79.40" height="86.00" fill="url(#g9)"/>
<g filter="url(#blur1)">
<rect x="396.80" y="50.60" width="8.80" height="84.40" fill="url(#g10)" rx="2"/>
<rect x="396.75" y="53.30" width="8.90" height="5.90" fill="#141414" rx="1.6"/>
<rect x="396.80" y="66.90" width="8.80" height="1.80" fill="#2e2e2e" rx="0.8"/>
<rect x="396.60" y="73.60" width="9.20" height="5.80" fill="#101010" rx="1.8"/>
<rect x="396.80" y="80.60" width="8.80" height="2.40" fill="#3a3a3a" rx="1.0"/>
<rect x="397.20" y="94.40" width="8.00" height="4.20" fill="#a4a4a4" rx="1.6"/>
<rect x="397.00" y="113.60" width="8.40" height="2.00" fill="#a6a6a6" rx="0.8"/>
<rect x="396.40" y="122.50" width="9.60" height="12.30" fill="#949494" rx="3.5"/>
<rect x="407.90" y="50.60" width="8.80" height="84.40" fill="url(#g11)" rx="2"/>
<rect x="407.85" y="53.00" width="8.90" height="7.60" fill="#141414" rx="1.6"/>
<rect x="407.90" y="66.90" width="8.80" height="1.80" fill="#2e2e2e" rx="0.8"/>
<rect x="407.70" y="73.60" width="9.20" height="5.80" fill="#101010" rx="1.8"/>
<rect x="407.90" y="80.60" width="8.80" height="2.40" fill="#3a3a3a" rx="1.0"/>
<rect x="408.30" y="94.40" width="8.00" height="4.20" fill="#121212" rx="1.6"/>
<rect x="408.10" y="113.60" width="8.40" height="2.00" fill="#a6a6a6" rx="0.8"/>
<rect x="407.50" y="122.50" width="9.60" height="12.30" fill="#949494" rx="3.5"/>
<rect x="419.00" y="50.60" width="8.80" height="84.40" fill="url(#g12)" rx="2"/>
<rect x="418.95" y="53.30" width="8.90" height="6.10" fill="#141414" rx="1.6"/>
<rect x="419.00" y="66.90" width="8.80" height="1.80" fill="#2e2e2e" rx="0.8"/>
<rect x="418.80" y="73.60" width="9.20" height="5.80" fill="#101010" rx="1.8"/>
<rect x="419.00" y="80.60" width="8.80" height="2.40" fill="#3a3a3a" rx="1.0"/>
<rect x="419.40" y="94.40" width="8.00" height="4.20" fill="#686868" rx="1.6"/>
<rect x="419.20" y="113.60" width="8.40" height="2.00" fill="#a6a6a6" rx="0.8"/>
<rect x="418.60" y="122.50" width="9.60" height="12.30" fill="#949494" rx="3.5"/>
<rect x="430.10" y="50.60" width="8.80" height="84.40" fill="url(#g13)" rx="2"/>
<rect x="430.05" y="53.60" width="8.90" height="6.00" fill="#141414" rx="1.6"/>
<rect x="430.10" y="66.90" width="8.80" height="1.80" fill="#2e2e2e" rx="0.8"/>
<rect x="429.90" y="73.60" width="9.20" height="5.80" fill="#101010" rx="1.8"/>
<rect x="430.10" y="80.60" width="8.80" height="2.40" fill="#3a3a3a" rx="1.0"/>
<rect x="430.50" y="94.40" width="8.00" height="4.20" fill="#6c6c6c" rx="1.6"/>
<rect x="430.30" y="113.60" width="8.40" height="2.00" fill="#a6a6a6" rx="0.8"/>
<rect x="429.70" y="122.50" width="9.60" height="12.30" fill="#949494" rx="3.5"/>
<rect x="441.20" y="50.60" width="8.80" height="84.40" fill="url(#g14)" rx="2"/>
<rect x="441.15" y="52.40" width="8.90" height="9.00" fill="#141414" rx="1.6"/>
<rect x="441.20" y="66.90" width="8.80" height="1.80" fill="#2e2e2e" rx="0.8"/>
<rect x="441.00" y="73.60" width="9.20" height="5.80" fill="#101010" rx="1.8"/>
<rect x="441.20" y="80.60" width="8.80" height="2.40" fill="#3a3a3a" rx="1.0"/>
<rect x="441.60" y="94.40" width="8.00" height="4.20" fill="#505050" rx="1.6"/>
<rect x="441.40" y="113.60" width="8.40" height="2.00" fill="#a6a6a6" rx="0.8"/>
<rect x="440.80" y="122.50" width="9.60" height="12.30" fill="#949494" rx="3.5"/>
<rect x="452.30" y="50.60" width="8.80" height="84.40" fill="url(#g15)" rx="2"/>
<rect x="452.25" y="56.50" width="8.90" height="5.30" fill="#141414" rx="1.6"/>
<rect x="452.30" y="66.90" width="8.80" height="1.80" fill="#2e2e2e" rx="0.8"/>
<rect x="452.10" y="73.60" width="9.20" height="5.80" fill="#101010" rx="1.8"/>
<rect x="452.30" y="80.60" width="8.80" height="2.40" fill="#3a3a3a" rx="1.0"/>
<rect x="452.70" y="94.40" width="8.00" height="4.20" fill="#7a7a7a" rx="1.6"/>
<rect x="452.50" y="113.60" width="8.40" height="2.00" fill="#a6a6a6" rx="0.8"/>
<rect x="451.90" y="122.50" width="9.60" height="12.30" fill="#949494" rx="3.5"/>
<rect x="463.40" y="50.60" width="8.80" height="84.40" fill="url(#g16)" rx="2"/>
<rect x="463.40" y="52.60" width="8.80" height="4.20" fill="#8a8a8a" rx="1.5"/>
<rect x="463.35" y="56.80" width="8.90" height="6.00" fill="#141414" rx="1.6"/>
<rect x="463.40" y="66.90" width="8.80" height="1.80" fill="#2e2e2e" rx="0.8"/>
<rect x="463.20" y="73.60" width="9.20" height="5.80" fill="#101010" rx="1.8"/>
<rect x="463.40" y="80.60" width="8.80" height="2.40" fill="#3a3a3a" rx="1.0"/>
<rect x="463.80" y="94.40" width="8.00" height="4.20" fill="#6e726e" rx="1.6"/>
<rect x="463.60" y="113.60" width="8.40" height="2.00" fill="#a6a6a6" rx="0.8"/>
<rect x="463.00" y="122.50" width="9.60" height="12.30" fill="#949494" rx="3.5"/>
</g>
<line x1="396.80" y1="91.50" x2="474.20" y2="91.50" stroke="#b8405e" stroke-width="1.2" stroke-dasharray="2.1,1.2"/>
<line x1="396.80" y1="101.20" x2="474.20" y2="101.20" stroke="#b8405e" stroke-width="1.2" stroke-dasharray="2.1,1.2"/>
<rect x="397.30" y="93.0" width="76.40" height="6.6" fill="none" stroke="#dc98aa" stroke-width="0.7"/>
<rect x="395.80" y="49.80" width="79.40" height="86.00" fill="none" stroke="#111" stroke-width="1.8"/>
<line x1="475.80" y1="67.30" x2="479.20" y2="67.30" stroke="#111" stroke-width="1.1"/>
<text x="494.80" y="70.30" font-size="8.6" text-anchor="end" fill="#222" stroke="#222" stroke-width="0.25">260</text>
<line x1="475.80" y1="80.90" x2="479.20" y2="80.90" stroke="#111" stroke-width="1.1"/>
<text x="494.80" y="83.90" font-size="8.6" text-anchor="end" fill="#222" stroke="#222" stroke-width="0.25">160</text>
<line x1="475.80" y1="94.80" x2="479.20" y2="94.80" stroke="#111" stroke-width="1.1"/>
<text x="494.80" y="97.80" font-size="8.6" text-anchor="end" fill="#222" stroke="#222" stroke-width="0.25">110</text>
<line x1="475.80" y1="111.10" x2="479.20" y2="111.10" stroke="#111" stroke-width="1.1"/>
<text x="494.80" y="114.10" font-size="8.6" text-anchor="end" fill="#222" stroke="#222" stroke-width="0.25">80</text>
<line x1="475.80" y1="131.70" x2="479.20" y2="131.70" stroke="#111" stroke-width="1.1"/>
<text x="494.80" y="134.70" font-size="8.6" text-anchor="end" fill="#222" stroke="#222" stroke-width="0.25">60</text>
<text x="495.80" y="49.70" font-size="8.6" text-anchor="end" fill="#222" stroke="#222" stroke-width="0.25">kDa</text>
<line x1="442.60" y1="138.70" x2="475.20" y2="138.70" stroke="#111" stroke-width="1.3"/>
<text x="457.50" y="147.40" font-size="8.6" text-anchor="middle" fill="#222" stroke="#222" stroke-width="0.25">+ TFPI</text>
<text x="392.60" y="56.20" font-size="8.2" text-anchor="end" fill="#222" stroke="#222" stroke-width="0.25">FV</text>
<text x="392.20" y="70.80" font-size="8.2" text-anchor="end" fill="#222" stroke="#222" stroke-width="0.25">FV A1A2</text>
<text x="393.30" y="78.00" font-size="8.2" text-anchor="end" fill="#222" stroke="#222" stroke-width="0.25">Partial B</text>
<text x="390.20" y="91.90" font-size="8.2" text-anchor="end" fill="#222" stroke="#222" stroke-width="0.25">FVa</text>
<text x="393.30" y="102.50" font-size="8.2" text-anchor="end" fill="#222" stroke="#222" stroke-width="0.25">A1A2</text>
<line x1="384.80" y1="58.20" x2="388.90" y2="58.20" stroke="#111" stroke-width="1.2"/>
<path d="M392.60,58.20 L388.40,60.50 L389.60,58.20 L388.40,55.90 Z" fill="#111"/>
<line x1="384.80" y1="80.40" x2="388.90" y2="80.40" stroke="#111" stroke-width="1.2"/>
<path d="M392.60,80.40 L388.40,82.70 L389.60,80.40 L388.40,78.10 Z" fill="#111"/>
<line x1="384.80" y1="95.00" x2="388.90" y2="95.00" stroke="#111" stroke-width="1.2"/>
<path d="M392.60,95.00 L388.40,97.30 L389.60,95.00 L388.40,92.70 Z" fill="#111"/>
<text x="6.90" y="182.10" font-size="12.0" text-anchor="start" fill="#000" stroke="#000" stroke-width="0.25" font-weight="bold">D</text>
<text x="74.40" y="200.40" font-size="10.0" text-anchor="middle" fill="#222" stroke="#222" stroke-width="0.25">+FIXa</text>
<text x="178.20" y="200.80" font-size="10.0" text-anchor="middle" fill="#222" stroke="#222" stroke-width="0.25">+FIX</text>
<line x1="45.20" y1="206.20" x2="45.20" y2="291.20" stroke="#111" stroke-width="1.45"/>
<line x1="42.20" y1="215.60" x2="45.20" y2="215.60" stroke="#111" stroke-width="1.2"/>
<text x="38.30" y="218.50" font-size="8.4" text-anchor="end" fill="#222" stroke="#222" stroke-width="0.25">8</text>
<line x1="42.20" y1="234.35" x2="45.20" y2="234.35" stroke="#111" stroke-width="1.2"/>
<text x="38.30" y="237.25" font-size="8.4" text-anchor="end" fill="#222" stroke="#222" stroke-width="0.25">6</text>
<line x1="42.20" y1="253.10" x2="45.20" y2="253.10" stroke="#111" stroke-width="1.2"/>
<text x="38.30" y="256.00" font-size="8.4" text-anchor="end" fill="#222" stroke="#222" stroke-width="0.25">4</text>
<line x1="42.20" y1="271.85" x2="45.20" y2="271.85" stroke="#111" stroke-width="1.2"/>
<text x="38.30" y="274.75" font-size="8.4" text-anchor="end" fill="#222" stroke="#222" stroke-width="0.25">2</text>
<line x1="42.20" y1="290.60" x2="45.20" y2="290.60" stroke="#111" stroke-width="1.2"/>
<text x="38.30" y="293.50" font-size="8.4" text-anchor="end" fill="#222" stroke="#222" stroke-width="0.25">0</text>
<line x1="44.60" y1="290.60" x2="103.50" y2="290.60" stroke="#111" stroke-width="1.45"/>
<line x1="50.80" y1="290.60" x2="50.80" y2="293.60" stroke="#111" stroke-width="1.2"/>
<line x1="74.50" y1="290.60" x2="74.50" y2="293.60" stroke="#111" stroke-width="1.2"/>
<line x1="98.10" y1="290.60" x2="98.10" y2="293.60" stroke="#111" stroke-width="1.2"/>
<text x="14.90" y="248.30" font-size="8.8" text-anchor="middle" fill="#222" stroke="#222" stroke-width="0.25" transform="rotate(-90 14.90 248.30)">FVIIIa activity as</text>
<text x="27.30" y="248.20" font-size="8.8" text-anchor="middle" fill="#222" stroke="#222" stroke-width="0.25" transform="rotate(-90 27.30 248.20)">generated FXa (nM)</text>
<text x="53.30" y="301.60" font-size="8.4" text-anchor="end" fill="#222" stroke="#222" stroke-width="0.25" transform="rotate(-45 53.30 301.60)">WT</text>
<text x="77.00" y="301.60" font-size="8.4" text-anchor="end" fill="#222" stroke="#222" stroke-width="0.25" transform="rotate(-45 77.00 301.60)">T99Y</text>
<text x="100.60" y="301.60" font-size="8.4" text-anchor="end" fill="#222" stroke="#222" stroke-width="0.25" transform="rotate(-45 100.60 301.60)">E154A</text>
<line x1="51.10" y1="236.80" x2="51.10" y2="277.20" stroke="#222" stroke-width="1.0"/>
<rect x="47.20" y="254.00" width="7.80" height="17.50" fill="#cbcbcb"/>
<line x1="47.20" y1="259.90" x2="55.00" y2="259.90" stroke="#111" stroke-width="1.3"/>
<line x1="48.37" y1="277.20" x2="53.83" y2="277.20" stroke="#222" stroke-width="1.2"/>
<line x1="48.37" y1="236.80" x2="53.83" y2="236.80" stroke="#222" stroke-width="1.2"/>
<line x1="74.60" y1="234.60" x2="74.60" y2="265.50" stroke="#222" stroke-width="1.0"/>
<rect x="70.45" y="246.50" width="8.30" height="16.10" fill="#b5163e"/>
<line x1="70.45" y1="253.20" x2="78.75" y2="253.20" stroke="#111" stroke-width="1.3"/>
<line x1="71.69" y1="265.50" x2="77.50" y2="265.50" stroke="#222" stroke-width="1.2"/>
<line x1="71.69" y1="234.60" x2="77.50" y2="234.60" stroke="#222" stroke-width="1.2"/>
<line x1="97.90" y1="244.20" x2="97.90" y2="260.30" stroke="#222" stroke-width="1.0"/>
<rect x="93.85" y="246.90" width="8.10" height="11.20" fill="#2c4a86"/>
<line x1="93.85" y1="257.60" x2="101.95" y2="257.60" stroke="#111" stroke-width="1.3"/>
<line x1="95.07" y1="260.30" x2="100.73" y2="260.30" stroke="#222" stroke-width="1.2"/>
<line x1="95.07" y1="244.20" x2="100.73" y2="244.20" stroke="#222" stroke-width="1.2"/>
<line x1="51.50" y1="217.40" x2="98.40" y2="217.40" stroke="#111" stroke-width="1.2"/>
<text x="74.40" y="215.60" font-size="7.3" text-anchor="middle" fill="#222" stroke="#222" stroke-width="0.25">NS</text>
<line x1="51.50" y1="230.30" x2="74.90" y2="230.30" stroke="#111" stroke-width="1.2"/>
<text x="63.20" y="228.60" font-size="7.3" text-anchor="middle" fill="#222" stroke="#222" stroke-width="0.25">NS</text>
<line x1="149.60" y1="203.50" x2="149.60" y2="291.30" stroke="#111" stroke-width="1.45"/>
<line x1="146.60" y1="205.71" x2="149.60" y2="205.71" stroke="#111" stroke-width="1.2"/>
<text x="142.10" y="208.61" font-size="8.4" text-anchor="end" fill="#222" stroke="#222" stroke-width="0.25">3</text>
<line x1="146.60" y1="234.04" x2="149.60" y2="234.04" stroke="#111" stroke-width="1.2"/>
<text x="142.10" y="236.94" font-size="8.4" text-anchor="end" fill="#222" stroke="#222" stroke-width="0.25">2</text>
<line x1="146.60" y1="262.37" x2="149.60" y2="262.37" stroke="#111" stroke-width="1.2"/>
<text x="142.10" y="265.27" font-size="8.4" text-anchor="end" fill="#222" stroke="#222" stroke-width="0.25">1</text>
<line x1="146.60" y1="290.70" x2="149.60" y2="290.70" stroke="#111" stroke-width="1.2"/>
<text x="142.10" y="293.60" font-size="8.4" text-anchor="end" fill="#222" stroke="#222" stroke-width="0.25">0</text>
<line x1="149.00" y1="290.70" x2="207.70" y2="290.70" stroke="#111" stroke-width="1.45"/>
<line x1="154.70" y1="290.70" x2="154.70" y2="293.70" stroke="#111" stroke-width="1.2"/>
<line x1="178.20" y1="290.70" x2="178.20" y2="293.70" stroke="#111" stroke-width="1.2"/>
<line x1="201.90" y1="290.70" x2="201.90" y2="293.70" stroke="#111" stroke-width="1.2"/>
<text x="119.20" y="246.90" font-size="8.8" text-anchor="middle" fill="#222" stroke="#222" stroke-width="0.25" transform="rotate(-90 119.20 246.90)">FIXa-FVIIIa activity as</text>
<text x="131.30" y="246.20" font-size="8.8" text-anchor="middle" fill="#222" stroke="#222" stroke-width="0.25" transform="rotate(-90 131.30 246.20)">generated FXa (nM)</text>
<text x="157.20" y="301.60" font-size="8.4" text-anchor="end" fill="#222" stroke="#222" stroke-width="0.25" transform="rotate(-45 157.20 301.60)">WT</text>
<text x="180.70" y="301.60" font-size="8.4" text-anchor="end" fill="#222" stroke="#222" stroke-width="0.25" transform="rotate(-45 180.70 301.60)">T99Y</text>
<text x="204.40" y="301.60" font-size="8.4" text-anchor="end" fill="#222" stroke="#222" stroke-width="0.25" transform="rotate(-45 204.40 301.60)">E154A</text>
<line x1="154.70" y1="238.20" x2="154.70" y2="281.10" stroke="#222" stroke-width="1.0"/>
<rect x="150.90" y="246.90" width="7.60" height="25.30" fill="#cbcbcb"/>
<line x1="150.90" y1="259.90" x2="158.50" y2="259.90" stroke="#111" stroke-width="1.3"/>
<line x1="152.04" y1="281.10" x2="157.36" y2="281.10" stroke="#222" stroke-width="1.2"/>
<line x1="152.04" y1="238.20" x2="157.36" y2="238.20" stroke="#222" stroke-width="1.2"/>
<line x1="178.20" y1="272.20" x2="178.20" y2="290.00" stroke="#222" stroke-width="1.0"/>
<rect x="174.20" y="274.40" width="8.00" height="10.10" fill="#b5163e"/>
<line x1="174.20" y1="279.60" x2="182.20" y2="279.60" stroke="#111" stroke-width="1.3"/>
<line x1="175.40" y1="290.00" x2="181.00" y2="290.00" stroke="#222" stroke-width="1.2"/>
<line x1="175.40" y1="272.20" x2="181.00" y2="272.20" stroke="#222" stroke-width="1.2"/>
<line x1="201.90" y1="230.50" x2="201.90" y2="261.50" stroke="#222" stroke-width="1.0"/>
<rect x="197.90" y="238.10" width="8.00" height="16.50" fill="#2c4a86"/>
<line x1="197.90" y1="245.30" x2="205.90" y2="245.30" stroke="#111" stroke-width="1.3"/>
<line x1="199.10" y1="261.50" x2="204.70" y2="261.50" stroke="#222" stroke-width="1.2"/>
<line x1="199.10" y1="230.50" x2="204.70" y2="230.50" stroke="#222" stroke-width="1.2"/>
<line x1="155.90" y1="234.80" x2="178.90" y2="234.80" stroke="#111" stroke-width="1.2"/>
<circle cx="164.80" cy="231.40" r="1.15" fill="#111"/>
<circle cx="168.70" cy="231.40" r="1.15" fill="#111"/>
<line x1="179.00" y1="226.50" x2="201.90" y2="226.50" stroke="#111" stroke-width="1.2"/>
<circle cx="186.50" cy="223.10" r="1.15" fill="#111"/>
<circle cx="190.40" cy="223.10" r="1.15" fill="#111"/>
<circle cx="194.30" cy="223.10" r="1.15" fill="#111"/>
<text x="224.00" y="182.50" font-size="12.0" text-anchor="start" fill="#000" stroke="#000" stroke-width="0.25" font-weight="bold">E</text>
<text x="290.00" y="198.30" font-size="10.0" text-anchor="middle" fill="#222" stroke="#222" stroke-width="0.25">+a-FVIII</text>
<line x1="259.80" y1="204.00" x2="259.80" y2="291.50" stroke="#111" stroke-width="1.45"/>
<line x1="256.80" y1="206.50" x2="259.80" y2="206.50" stroke="#111" stroke-width="1.2"/>
<text x="253.40" y="209.40" font-size="8.4" text-anchor="end" fill="#222" stroke="#222" stroke-width="0.25">120</text>
<line x1="256.80" y1="227.60" x2="259.80" y2="227.60" stroke="#111" stroke-width="1.2"/>
<text x="253.40" y="230.50" font-size="8.4" text-anchor="end" fill="#222" stroke="#222" stroke-width="0.25">90</text>
<line x1="256.80" y1="248.70" x2="259.80" y2="248.70" stroke="#111" stroke-width="1.2"/>
<text x="253.40" y="251.60" font-size="8.4" text-anchor="end" fill="#222" stroke="#222" stroke-width="0.25">60</text>
<line x1="256.80" y1="269.80" x2="259.80" y2="269.80" stroke="#111" stroke-width="1.2"/>
<text x="253.40" y="272.70" font-size="8.4" text-anchor="end" fill="#222" stroke="#222" stroke-width="0.25">30</text>
<line x1="256.80" y1="290.90" x2="259.80" y2="290.90" stroke="#111" stroke-width="1.2"/>
<text x="253.40" y="293.80" font-size="8.4" text-anchor="end" fill="#222" stroke="#222" stroke-width="0.25">0</text>
<line x1="259.20" y1="290.90" x2="320.70" y2="290.90" stroke="#111" stroke-width="1.45"/>
<line x1="259.80" y1="290.90" x2="259.80" y2="293.70" stroke="#111" stroke-width="1.2"/>
<text x="259.80" y="304.60" font-size="8.4" text-anchor="middle" fill="#222" stroke="#222" stroke-width="0.25">0</text>
<line x1="274.35" y1="290.90" x2="274.35" y2="293.70" stroke="#111" stroke-width="1.2"/>
<text x="274.35" y="304.60" font-size="8.4" text-anchor="middle" fill="#222" stroke="#222" stroke-width="0.25">10</text>
<line x1="288.90" y1="290.90" x2="288.90" y2="293.70" stroke="#111" stroke-width="1.2"/>
<text x="288.90" y="304.60" font-size="8.4" text-anchor="middle" fill="#222" stroke="#222" stroke-width="0.25">20</text>
<line x1="303.45" y1="290.90" x2="303.45" y2="293.70" stroke="#111" stroke-width="1.2"/>
<text x="303.45" y="304.60" font-size="8.4" text-anchor="middle" fill="#222" stroke="#222" stroke-width="0.25">30</text>
<line x1="318.00" y1="290.90" x2="318.00" y2="293.70" stroke="#111" stroke-width="1.2"/>
<text x="318.00" y="304.60" font-size="8.4" text-anchor="middle" fill="#222" stroke="#222" stroke-width="0.25">40</text>
<text x="232.60" y="246.80" font-size="9.1" text-anchor="middle" fill="#222" stroke="#222" stroke-width="0.25" transform="rotate(-90 232.60 246.80)">FIIa (nM)</text>
<text x="0" y="0" font-size="10.0" text-anchor="middle" fill="#222" stroke="#222" stroke-width="0.25" transform="translate(289.50 317.10) scale(0.935 1)">Time (min)</text>
<path d="M262.71,290.90 L263.03,290.84 L263.46,290.76 L263.98,290.66 L264.54,290.54 L265.10,290.38 L265.62,290.20 L266.11,289.97 L266.59,289.71 L267.08,289.43 L267.56,289.12 L268.05,288.78 L268.53,288.44 L269.02,288.07 L269.50,287.68 L269.99,287.27 L270.47,286.85 L270.96,286.42 L271.44,285.98 L271.93,285.53 L272.41,285.06 L272.89,284.59 L273.38,284.11 L273.87,283.64 L274.35,283.16 L274.84,282.69 L275.32,282.21 L275.81,281.73 L276.29,281.26 L276.78,280.80 L277.26,280.35 L277.75,279.92 L278.23,279.49 L278.71,279.08 L279.20,278.67 L279.69,278.27 L280.17,277.89 L280.66,277.51 L281.14,277.13 L281.62,276.77 L282.11,276.42 L282.59,276.09 L283.08,275.78 L283.57,275.50 L284.05,275.24 L284.54,275.01 L285.02,274.79 L285.51,274.58 L285.99,274.37 L286.48,274.17 L286.96,273.98 L287.44,273.80 L287.93,273.63 L288.42,273.47 L288.90,273.32 L289.39,273.17 L289.87,273.04 L290.36,272.91 L290.84,272.80 L291.32,272.70 L291.81,272.61 L292.30,272.54 L292.78,272.49 L293.26,272.45 L293.75,272.42 L294.24,272.41 L294.72,272.40 L295.21,272.41 L295.69,272.42 L296.18,272.45 L296.66,272.49 L297.15,272.54 L297.63,272.61 L298.12,272.70 L298.60,272.80 L299.08,272.91 L299.57,273.04 L300.05,273.17 L300.54,273.32 L301.03,273.47 L301.51,273.63 L302.00,273.80 L302.48,273.98 L302.97,274.17 L303.45,274.37 L303.94,274.59 L304.42,274.81 L304.91,275.05 L305.39,275.30 L305.88,275.54 L306.36,275.78 L306.85,276.01 L307.33,276.23 L307.81,276.46 L308.30,276.69 L308.78,276.93 L309.27,277.18 L309.75,277.46 L310.24,277.75 L310.72,278.04 L311.21,278.34 L311.70,278.65 L312.18,278.94 L312.67,279.24 L313.15,279.53 L313.63,279.82 L314.12,280.12 L314.60,280.41 L315.09,280.70 L315.61,281.02 L316.17,281.35 L316.73,281.69 L317.25,282.00 L317.68,282.27 L318.00,282.46" stroke="#c3c3c3" stroke-width="1.9" fill="none" stroke-linejoin="round" stroke-linecap="round"/>
<path d="M259.80,290.69 L261.38,290.65 L263.57,290.61 L266.17,290.56 L268.96,290.49 L271.76,290.42 L274.35,290.34 L276.78,290.24 L279.20,290.14 L281.62,290.03 L284.05,289.90 L286.48,289.77 L288.90,289.63 L291.33,289.49 L293.75,289.33 L296.18,289.17 L298.60,289.00 L301.02,288.82 L303.45,288.65 L306.04,288.46 L308.84,288.24 L311.63,288.03 L314.23,287.82 L316.42,287.65 L318.00,287.52" stroke="#a8173a" stroke-width="2.0" fill="none" stroke-linejoin="round" stroke-linecap="round"/>
<path d="M259.80,290.69 L261.38,290.65 L263.57,290.61 L266.17,290.55 L268.96,290.48 L271.76,290.41 L274.35,290.34 L276.78,290.26 L279.20,290.18 L281.62,290.09 L284.05,289.99 L286.48,289.89 L288.90,289.77 L291.33,289.65 L293.75,289.52 L296.18,289.38 L298.60,289.24 L301.02,289.09 L303.45,288.93 L306.04,288.75 L308.84,288.56 L311.63,288.35 L314.23,288.16 L316.42,287.99 L318.00,287.88" stroke="#203c6c" stroke-width="2.2" fill="none" stroke-linejoin="round" stroke-linecap="round"/>
<text x="266.60" y="263.20" font-size="7.8" text-anchor="middle" fill="#bdbdbd" stroke="#bdbdbd" stroke-width="0.25">WT</text>
<line x1="264.00" y1="265.00" x2="269.54" y2="279.43" stroke="#bdbdbd" stroke-width="1.3"/>
<path d="M271.30,284.00 L266.56,280.04 L269.79,280.08 L272.16,277.88 Z" fill="#bdbdbd"/>
<text x="285.80" y="272.20" font-size="8.2" text-anchor="middle" fill="#374e80" stroke="#374e80" stroke-width="0.25">E154A</text>
<line x1="289.50" y1="272.20" x2="292.15" y2="282.67" stroke="#203c6c" stroke-width="1.4"/>
<path d="M293.50,288.00 L288.93,282.97 L292.32,283.35 L295.13,281.40 Z" fill="#203c6c"/>
<text x="307.30" y="267.40" font-size="8.2" text-anchor="middle" fill="#b02448" stroke="#b02448" stroke-width="0.25">T99Y</text>
<line x1="312.20" y1="267.50" x2="311.06" y2="281.02" stroke="#a8173a" stroke-width="1.4"/>
<path d="M310.60,286.50 L307.91,280.25 L311.00,281.72 L314.29,280.79 Z" fill="#a8173a"/>
<text x="339.70" y="182.40" font-size="12.0" text-anchor="start" fill="#000" stroke="#000" stroke-width="0.25" font-weight="bold">F</text>
<text x="405.90" y="197.50" font-size="10.0" text-anchor="middle" fill="#222" stroke="#222" stroke-width="0.25">No addition</text>
<text x="479.00" y="198.60" font-size="10.0" text-anchor="middle" fill="#222" stroke="#222" stroke-width="0.25">+a-FXI</text>
<line x1="374.30" y1="203.90" x2="374.30" y2="290.70" stroke="#111" stroke-width="1.45"/>
<line x1="371.30" y1="206.10" x2="374.30" y2="206.10" stroke="#111" stroke-width="1.2"/>
<text x="367.90" y="209.00" font-size="8.4" text-anchor="end" fill="#222" stroke="#222" stroke-width="0.25">120</text>
<line x1="371.30" y1="227.10" x2="374.30" y2="227.10" stroke="#111" stroke-width="1.2"/>
<text x="367.90" y="230.00" font-size="8.4" text-anchor="end" fill="#222" stroke="#222" stroke-width="0.25">90</text>
<line x1="371.30" y1="248.10" x2="374.30" y2="248.10" stroke="#111" stroke-width="1.2"/>
<text x="367.90" y="251.00" font-size="8.4" text-anchor="end" fill="#222" stroke="#222" stroke-width="0.25">60</text>
<line x1="371.30" y1="269.10" x2="374.30" y2="269.10" stroke="#111" stroke-width="1.2"/>
<text x="367.90" y="272.00" font-size="8.4" text-anchor="end" fill="#222" stroke="#222" stroke-width="0.25">30</text>
<line x1="371.30" y1="290.10" x2="374.30" y2="290.10" stroke="#111" stroke-width="1.2"/>
<text x="367.90" y="293.00" font-size="8.4" text-anchor="end" fill="#222" stroke="#222" stroke-width="0.25">0</text>
<line x1="373.70" y1="290.10" x2="436.00" y2="290.10" stroke="#111" stroke-width="1.45"/>
<line x1="374.30" y1="290.10" x2="374.30" y2="292.90" stroke="#111" stroke-width="1.2"/>
<text x="374.30" y="304.60" font-size="8.4" text-anchor="middle" fill="#222" stroke="#222" stroke-width="0.25">0</text>
<line x1="389.30" y1="290.10" x2="389.30" y2="292.90" stroke="#111" stroke-width="1.2"/>
<text x="389.30" y="304.60" font-size="8.4" text-anchor="middle" fill="#222" stroke="#222" stroke-width="0.25">10</text>
<line x1="404.30" y1="290.10" x2="404.30" y2="292.90" stroke="#111" stroke-width="1.2"/>
<text x="404.30" y="304.60" font-size="8.4" text-anchor="middle" fill="#222" stroke="#222" stroke-width="0.25">20</text>
<line x1="419.30" y1="290.10" x2="419.30" y2="292.90" stroke="#111" stroke-width="1.2"/>
<text x="419.30" y="304.60" font-size="8.4" text-anchor="middle" fill="#222" stroke="#222" stroke-width="0.25">30</text>
<line x1="434.30" y1="290.10" x2="434.30" y2="292.90" stroke="#111" stroke-width="1.2"/>
<text x="434.30" y="304.60" font-size="8.4" text-anchor="middle" fill="#222" stroke="#222" stroke-width="0.25">40</text>
<line x1="447.20" y1="203.20" x2="447.20" y2="290.70" stroke="#111" stroke-width="1.45"/>
<line x1="444.20" y1="206.10" x2="447.20" y2="206.10" stroke="#111" stroke-width="1.2"/>
<line x1="444.20" y1="227.10" x2="447.20" y2="227.10" stroke="#111" stroke-width="1.2"/>
<line x1="444.20" y1="248.10" x2="447.20" y2="248.10" stroke="#111" stroke-width="1.2"/>
<line x1="444.20" y1="269.10" x2="447.20" y2="269.10" stroke="#111" stroke-width="1.2"/>
<line x1="444.20" y1="290.10" x2="447.20" y2="290.10" stroke="#111" stroke-width="1.2"/>
<line x1="446.60" y1="290.10" x2="509.40" y2="290.10" stroke="#111" stroke-width="1.45"/>
<line x1="447.20" y1="290.10" x2="447.20" y2="292.90" stroke="#111" stroke-width="1.2"/>
<text x="447.20" y="304.60" font-size="8.4" text-anchor="middle" fill="#222" stroke="#222" stroke-width="0.25">0</text>
<line x1="462.20" y1="290.10" x2="462.20" y2="292.90" stroke="#111" stroke-width="1.2"/>
<text x="462.20" y="304.60" font-size="8.4" text-anchor="middle" fill="#222" stroke="#222" stroke-width="0.25">10</text>
<line x1="477.20" y1="290.10" x2="477.20" y2="292.90" stroke="#111" stroke-width="1.2"/>
<text x="477.20" y="304.60" font-size="8.4" text-anchor="middle" fill="#222" stroke="#222" stroke-width="0.25">20</text>
<line x1="492.20" y1="290.10" x2="492.20" y2="292.90" stroke="#111" stroke-width="1.2"/>
<text x="492.20" y="304.60" font-size="8.4" text-anchor="middle" fill="#222" stroke="#222" stroke-width="0.25">30</text>
<line x1="507.20" y1="290.10" x2="507.20" y2="292.90" stroke="#111" stroke-width="1.2"/>
<text x="507.20" y="304.60" font-size="8.4" text-anchor="middle" fill="#222" stroke="#222" stroke-width="0.25">40</text>
<text x="347.30" y="246.80" font-size="9.1" text-anchor="middle" fill="#222" stroke="#222" stroke-width="0.25" transform="rotate(-90 347.30 246.80)">FIIa (nM)</text>
<text x="0" y="0" font-size="10.0" text-anchor="middle" fill="#222" stroke="#222" stroke-width="0.25" transform="translate(439.90 318.00) scale(0.935 1)">Time (min)</text>
<path d="M374.30,290.10 L375.00,290.11 L375.99,290.14 L377.16,290.17 L378.36,290.18 L379.45,290.16 L380.30,290.10 L380.90,290.00 L381.35,289.86 L381.70,289.70 L381.98,289.51 L382.25,289.29 L382.55,289.05 L382.86,288.86 L383.15,288.72 L383.42,288.56 L383.68,288.29 L383.94,287.80 L384.20,287.02 L384.46,285.93 L384.71,284.62 L384.95,283.10 L385.19,281.39 L385.44,279.51 L385.70,277.50 L385.97,275.26 L386.24,272.75 L386.53,270.08 L386.81,267.35 L387.08,264.65 L387.35,262.10 L387.61,259.67 L387.86,257.28 L388.11,254.93 L388.36,252.61 L388.60,250.34 L388.85,248.10 L389.10,245.85 L389.34,243.59 L389.59,241.36 L389.84,239.23 L390.09,237.26 L390.35,235.50 L390.62,233.98 L390.89,232.65 L391.17,231.47 L391.44,230.42 L391.72,229.44 L392.00,228.50 L392.27,227.61 L392.53,226.79 L392.79,226.05 L393.06,225.39 L393.34,224.81 L393.65,224.30 L393.99,223.84 L394.35,223.43 L394.73,223.10 L395.12,222.88 L395.51,222.80 L395.90,222.90 L396.29,223.14 L396.69,223.48 L397.10,223.96 L397.51,224.63 L397.91,225.52 L398.30,226.68 L398.68,228.12 L399.06,229.82 L399.43,231.75 L399.79,233.86 L400.17,236.13 L400.55,238.51 L400.94,241.11 L401.34,243.99 L401.74,247.02 L402.14,250.08 L402.55,253.05 L402.95,255.80 L403.35,258.38 L403.76,260.88 L404.16,263.29 L404.56,265.60 L404.96,267.77 L405.35,269.80 L405.72,271.70 L406.08,273.50 L406.43,275.16 L406.79,276.68 L407.17,278.03 L407.60,279.18 L408.06,280.10 L408.55,280.79 L409.06,281.31 L409.60,281.72 L410.16,282.06 L410.75,282.40 L411.35,282.71 L411.96,282.93 L412.59,283.10 L413.26,283.23 L413.99,283.34 L414.80,283.45 L415.63,283.56 L416.46,283.65 L417.34,283.73 L418.34,283.78 L419.53,283.83 L420.95,283.87 L422.82,283.89 L425.14,283.90 L427.63,283.90 L430.04,283.89 L432.10,283.87 L433.55,283.87" stroke="#c3c3c3" stroke-width="2.3" fill="none" stroke-linejoin="round" stroke-linecap="round"/>
<path d="M374.30,290.10 L375.63,290.11 L377.55,290.12 L379.78,290.13 L382.05,290.14 L384.07,290.13 L385.55,290.10 L386.45,290.04 L386.98,289.97 L387.27,289.87 L387.42,289.77 L387.56,289.66 L387.80,289.54 L388.12,289.43 L388.41,289.34 L388.69,289.24 L388.97,289.11 L389.27,288.94 L389.60,288.70 L389.97,288.40 L390.36,288.05 L390.77,287.66 L391.19,287.23 L391.60,286.76 L392.00,286.25 L392.38,285.71 L392.75,285.14 L393.12,284.52 L393.48,283.86 L393.86,283.16 L394.25,282.40 L394.66,281.58 L395.09,280.71 L395.52,279.80 L395.96,278.84 L396.39,277.83 L396.80,276.80 L397.18,275.76 L397.54,274.72 L397.89,273.64 L398.24,272.48 L398.63,271.21 L399.05,269.80 L399.53,268.16 L400.07,266.32 L400.62,264.36 L401.18,262.39 L401.72,260.51 L402.20,258.81 L402.63,257.25 L403.01,255.74 L403.37,254.32 L403.72,253.03 L404.08,251.90 L404.45,250.97 L404.84,250.28 L405.24,249.79 L405.64,249.47 L406.04,249.27 L406.45,249.15 L406.85,249.08 L407.24,249.04 L407.63,249.06 L408.01,249.17 L408.41,249.38 L408.82,249.72 L409.25,250.20 L409.70,250.85 L410.17,251.66 L410.65,252.59 L411.15,253.61 L411.68,254.69 L412.25,255.80 L412.86,256.94 L413.50,258.15 L414.17,259.41 L414.87,260.73 L415.58,262.10 L416.30,263.50 L417.04,265.02 L417.81,266.68 L418.59,268.38 L419.38,270.04 L420.17,271.57 L420.95,272.88 L421.73,273.96 L422.52,274.87 L423.31,275.66 L424.09,276.35 L424.86,276.97 L425.60,277.57 L426.31,278.11 L427.00,278.56 L427.67,278.94 L428.33,279.29 L428.99,279.64 L429.65,280.02 L430.35,280.45 L431.11,280.91 L431.85,281.36 L432.54,281.79 L433.13,282.14 L433.55,282.40" stroke="#a8173a" stroke-width="2.2" fill="none" stroke-linejoin="round" stroke-linecap="round"/>
<path d="M374.30,290.10 L375.45,290.12 L377.11,290.18 L379.03,290.23 L380.99,290.26 L382.75,290.22 L384.05,290.10 L384.86,289.90 L385.37,289.66 L385.67,289.36 L385.86,288.99 L386.04,288.54 L386.30,288.00 L386.63,287.39 L386.94,286.70 L387.25,285.94 L387.54,285.10 L387.82,284.15 L388.10,283.10 L388.36,282.04 L388.59,281.00 L388.81,279.86 L389.04,278.51 L389.30,276.83 L389.60,274.70 L389.95,271.97 L390.34,268.71 L390.75,265.12 L391.18,261.40 L391.60,257.76 L392.00,254.40 L392.38,251.22 L392.76,248.02 L393.13,244.91 L393.49,241.96 L393.87,239.26 L394.25,236.90 L394.64,234.91 L395.04,233.21 L395.44,231.76 L395.84,230.53 L396.25,229.45 L396.65,228.50 L397.05,227.68 L397.45,227.04 L397.85,226.56 L398.25,226.23 L398.65,226.04 L399.05,225.98 L399.46,226.07 L399.88,226.33 L400.31,226.73 L400.72,227.25 L401.10,227.84 L401.45,228.50 L401.74,229.18 L401.98,229.89 L402.20,230.70 L402.42,231.63 L402.66,232.75 L402.95,234.10 L403.30,235.73 L403.69,237.61 L404.10,239.67 L404.53,241.84 L404.95,244.07 L405.35,246.28 L405.72,248.53 L406.08,250.87 L406.43,253.27 L406.79,255.67 L407.17,258.02 L407.60,260.28 L408.06,262.49 L408.56,264.71 L409.07,266.88 L409.61,268.95 L410.17,270.87 L410.75,272.60 L411.35,274.13 L411.96,275.50 L412.60,276.72 L413.26,277.81 L413.94,278.76 L414.65,279.60 L415.36,280.27 L416.07,280.75 L416.81,281.11 L417.59,281.39 L418.47,281.67 L419.45,281.98 L420.59,282.34 L421.88,282.69 L423.26,283.02 L424.65,283.34 L426.00,283.62 L427.25,283.87 L428.46,284.08 L429.69,284.26 L430.89,284.41 L431.97,284.53 L432.88,284.63 L433.55,284.71" stroke="#203c6c" stroke-width="2.2" fill="none" stroke-linejoin="round" stroke-linecap="round"/>
<text x="381.60" y="217.20" font-size="7.8" text-anchor="middle" fill="#bdbdbd" stroke="#bdbdbd" stroke-width="0.25">WT</text>
<line x1="385.00" y1="218.50" x2="388.17" y2="221.91" stroke="#bdbdbd" stroke-width="1.3"/>
<path d="M391.50,225.50 L385.63,223.58 L388.64,222.42 L390.02,219.50 Z" fill="#bdbdbd"/>
<text x="414.30" y="222.20" font-size="8.2" text-anchor="middle" fill="#374e80" stroke="#374e80" stroke-width="0.25">E154A</text>
<line x1="415.00" y1="224.00" x2="409.60" y2="228.83" stroke="#203c6c" stroke-width="1.4"/>
<path d="M405.50,232.50 L407.84,226.11 L409.08,229.30 L412.11,230.88 Z" fill="#203c6c"/>
<text x="423.20" y="247.60" font-size="8.2" text-anchor="middle" fill="#b02448" stroke="#b02448" stroke-width="0.25">T99Y</text>
<line x1="424.00" y1="249.50" x2="420.14" y2="253.88" stroke="#a8173a" stroke-width="1.4"/>
<path d="M416.50,258.00 L418.07,251.38 L419.68,254.40 L422.87,255.62 Z" fill="#a8173a"/>
<path d="M447.20,290.10 L447.81,290.11 L448.67,290.14 L449.68,290.17 L450.73,290.18 L451.69,290.16 L452.45,290.10 L453.01,290.00 L453.44,289.86 L453.80,289.70 L454.11,289.51 L454.39,289.29 L454.70,289.05 L455.01,288.82 L455.28,288.62 L455.54,288.39 L455.80,288.08 L456.06,287.64 L456.35,287.02 L456.66,286.22 L456.98,285.27 L457.31,284.19 L457.64,282.99 L457.97,281.69 L458.30,280.30 L458.62,278.80 L458.95,277.18 L459.28,275.46 L459.60,273.65 L459.93,271.76 L460.25,269.80 L460.57,267.75 L460.90,265.57 L461.23,263.33 L461.55,261.04 L461.88,258.75 L462.20,256.50 L462.53,254.22 L462.86,251.86 L463.19,249.50 L463.52,247.22 L463.84,245.09 L464.15,243.20 L464.44,241.56 L464.73,240.11 L465.00,238.83 L465.27,237.65 L465.54,236.56 L465.80,235.50 L466.04,234.51 L466.26,233.62 L466.48,232.81 L466.71,232.06 L466.97,231.33 L467.30,230.60 L467.70,229.80 L468.16,228.93 L468.65,228.09 L469.16,227.37 L469.67,226.87 L470.15,226.68 L470.61,226.74 L471.07,226.97 L471.53,227.42 L471.98,228.13 L472.42,229.18 L472.85,230.60 L473.26,232.48 L473.65,234.78 L474.03,237.41 L474.42,240.27 L474.82,243.26 L475.25,246.28 L475.71,249.52 L476.20,253.10 L476.70,256.80 L477.22,260.44 L477.73,263.81 L478.25,266.72 L478.76,269.15 L479.26,271.27 L479.77,273.12 L480.29,274.75 L480.83,276.22 L481.40,277.57 L481.99,278.75 L482.58,279.72 L483.20,280.52 L483.85,281.20 L484.55,281.81 L485.30,282.40 L486.12,282.95 L487.00,283.42 L487.92,283.81 L488.88,284.15 L489.86,284.45 L490.85,284.71 L491.82,284.93 L492.78,285.08 L493.77,285.20 L494.80,285.28 L495.92,285.34 L497.15,285.41 L498.63,285.47 L500.37,285.50 L502.19,285.52 L503.93,285.53 L505.40,285.54 L506.45,285.55" stroke="#c3c3c3" stroke-width="2.3" fill="none" stroke-linejoin="round" stroke-linecap="round"/>
<path d="M447.20,290.10 L448.43,290.11 L450.20,290.14 L452.26,290.17 L454.37,290.18 L456.26,290.16 L457.70,290.10 L458.64,289.99 L459.28,289.84 L459.72,289.66 L460.03,289.46 L460.33,289.26 L460.70,289.05 L461.11,288.85 L461.48,288.64 L461.83,288.42 L462.18,288.19 L462.55,287.94 L462.95,287.65 L463.39,287.33 L463.84,286.97 L464.32,286.59 L464.81,286.19 L465.30,285.80 L465.80,285.41 L466.31,285.03 L466.83,284.65 L467.37,284.26 L467.90,283.87 L468.43,283.49 L468.95,283.10 L469.47,282.71 L469.99,282.31 L470.51,281.92 L471.01,281.53 L471.50,281.15 L471.95,280.79 L472.36,280.44 L472.74,280.11 L473.10,279.78 L473.46,279.47 L473.82,279.18 L474.20,278.90 L474.60,278.64 L475.01,278.39 L475.42,278.17 L475.84,277.95 L476.29,277.75 L476.75,277.57 L477.21,277.40 L477.64,277.23 L478.10,277.08 L478.61,276.95 L479.19,276.85 L479.90,276.80 L480.77,276.79 L481.78,276.83 L482.87,276.90 L483.99,276.99 L485.07,277.10 L486.05,277.22 L486.95,277.36 L487.82,277.53 L488.65,277.72 L489.43,277.91 L490.17,278.10 L490.85,278.27 L491.43,278.42 L491.92,278.57 L492.35,278.71 L492.78,278.84 L493.27,278.98 L493.85,279.11 L494.57,279.24 L495.40,279.38 L496.28,279.51 L497.15,279.64 L497.96,279.76 L498.65,279.88 L499.21,279.99 L499.68,280.09 L500.09,280.19 L500.47,280.28 L500.83,280.36 L501.20,280.44 L501.58,280.51 L501.95,280.57 L502.31,280.63 L502.65,280.68 L502.98,280.73 L503.30,280.79 L503.60,280.86 L503.89,280.94 L504.16,281.02 L504.43,281.09 L504.69,281.13 L504.95,281.14 L505.23,281.09 L505.52,281.00 L505.80,280.88 L506.07,280.76 L506.29,280.65 L506.45,280.58" stroke="#a8173a" stroke-width="2.2" fill="none" stroke-linejoin="round" stroke-linecap="round"/>
<path d="M447.20,290.10 L448.34,290.12 L449.99,290.15 L451.92,290.19 L453.87,290.20 L455.63,290.18 L456.95,290.10 L457.79,289.98 L458.34,289.84 L458.68,289.66 L458.93,289.43 L459.17,289.11 L459.50,288.70 L459.91,288.19 L460.32,287.61 L460.72,286.95 L461.12,286.21 L461.51,285.39 L461.90,284.50 L462.27,283.60 L462.63,282.71 L462.98,281.74 L463.34,280.61 L463.72,279.25 L464.15,277.57 L464.62,275.45 L465.13,272.94 L465.67,270.19 L466.22,267.36 L466.76,264.61 L467.30,262.10 L467.83,259.75 L468.38,257.43 L468.92,255.18 L469.46,253.08 L469.97,251.16 L470.45,249.50 L470.90,248.12 L471.32,246.97 L471.72,246.02 L472.10,245.22 L472.48,244.53 L472.85,243.90 L473.21,243.35 L473.56,242.93 L473.89,242.61 L474.23,242.39 L474.58,242.26 L474.95,242.22 L475.35,242.24 L475.77,242.33 L476.21,242.52 L476.64,242.82 L477.08,243.27 L477.50,243.90 L477.91,244.73 L478.32,245.74 L478.72,246.89 L479.12,248.16 L479.51,249.51 L479.90,250.90 L480.27,252.34 L480.63,253.86 L480.98,255.45 L481.34,257.12 L481.72,258.87 L482.15,260.70 L482.62,262.69 L483.13,264.87 L483.67,267.13 L484.22,269.36 L484.76,271.45 L485.30,273.30 L485.82,274.92 L486.32,276.41 L486.83,277.76 L487.34,278.97 L487.88,280.05 L488.45,281.00 L489.03,281.77 L489.61,282.36 L490.20,282.82 L490.84,283.19 L491.55,283.52 L492.35,283.87 L493.24,284.22 L494.22,284.53 L495.26,284.80 L496.35,285.04 L497.49,285.24 L498.65,285.41 L499.95,285.53 L501.43,285.61 L502.94,285.65 L504.37,285.66 L505.58,285.67 L506.45,285.69" stroke="#203c6c" stroke-width="2.2" fill="none" stroke-linejoin="round" stroke-linecap="round"/>
<text x="459.40" y="219.60" font-size="7.8" text-anchor="middle" fill="#bdbdbd" stroke="#bdbdbd" stroke-width="0.25">WT</text>
<line x1="462.60" y1="220.80" x2="464.59" y2="225.10" stroke="#bdbdbd" stroke-width="1.3"/>
<path d="M466.40,229.00 L461.84,225.82 L464.89,225.73 L466.92,223.47 Z" fill="#bdbdbd"/>
<text x="491.60" y="238.60" font-size="8.2" text-anchor="middle" fill="#374e80" stroke="#374e80" stroke-width="0.25">E154A</text>
<line x1="490.00" y1="240.50" x2="486.52" y2="243.75" stroke="#203c6c" stroke-width="1.4"/>
<path d="M482.50,247.50 L484.70,241.07 L486.01,244.22 L489.07,245.75 Z" fill="#203c6c"/>
<text x="497.20" y="263.50" font-size="8.2" text-anchor="middle" fill="#b02448" stroke="#b02448" stroke-width="0.25">T99Y</text>
<line x1="497.50" y1="265.50" x2="495.83" y2="272.16" stroke="#a8173a" stroke-width="1.4"/>
<path d="M494.50,277.50 L492.85,270.90 L495.66,272.84 L499.06,272.46 Z" fill="#a8173a"/>
<text x="9.40" y="344.70" font-size="12.0" text-anchor="start" fill="#000" stroke="#000" stroke-width="0.25" font-weight="bold">G</text>
<text x="74.20" y="360.90" font-size="10.0" text-anchor="middle" fill="#222" stroke="#222" stroke-width="0.25">FIXa</text>
<line x1="41.90" y1="366.40" x2="41.90" y2="455.10" stroke="#111" stroke-width="1.45"/>
<line x1="38.90" y1="369.30" x2="41.90" y2="369.30" stroke="#111" stroke-width="1.2"/>
<text x="35.60" y="372.20" font-size="8.4" text-anchor="end" fill="#222" stroke="#222" stroke-width="0.25">250</text>
<line x1="38.90" y1="386.34" x2="41.90" y2="386.34" stroke="#111" stroke-width="1.2"/>
<text x="35.60" y="389.24" font-size="8.4" text-anchor="end" fill="#222" stroke="#222" stroke-width="0.25">200</text>
<line x1="38.90" y1="403.38" x2="41.90" y2="403.38" stroke="#111" stroke-width="1.2"/>
<text x="35.60" y="406.28" font-size="8.4" text-anchor="end" fill="#222" stroke="#222" stroke-width="0.25">150</text>
<line x1="38.90" y1="420.42" x2="41.90" y2="420.42" stroke="#111" stroke-width="1.2"/>
<text x="35.60" y="423.32" font-size="8.4" text-anchor="end" fill="#222" stroke="#222" stroke-width="0.25">100</text>
<line x1="38.90" y1="437.46" x2="41.90" y2="437.46" stroke="#111" stroke-width="1.2"/>
<text x="35.60" y="440.36" font-size="8.4" text-anchor="end" fill="#222" stroke="#222" stroke-width="0.25">50</text>
<line x1="38.90" y1="454.50" x2="41.90" y2="454.50" stroke="#111" stroke-width="1.2"/>
<text x="35.60" y="457.40" font-size="8.4" text-anchor="end" fill="#222" stroke="#222" stroke-width="0.25">0</text>
<line x1="41.30" y1="454.50" x2="104.50" y2="454.50" stroke="#111" stroke-width="1.45"/>
<line x1="41.90" y1="454.50" x2="41.90" y2="457.30" stroke="#111" stroke-width="1.2"/>
<text x="41.90" y="468.90" font-size="8.4" text-anchor="middle" fill="#222" stroke="#222" stroke-width="0.25">0</text>
<line x1="56.80" y1="454.50" x2="56.80" y2="457.30" stroke="#111" stroke-width="1.2"/>
<text x="56.80" y="468.90" font-size="8.4" text-anchor="middle" fill="#222" stroke="#222" stroke-width="0.25">10</text>
<line x1="71.70" y1="454.50" x2="71.70" y2="457.30" stroke="#111" stroke-width="1.2"/>
<text x="71.70" y="468.90" font-size="8.4" text-anchor="middle" fill="#222" stroke="#222" stroke-width="0.25">20</text>
<line x1="86.60" y1="454.50" x2="86.60" y2="457.30" stroke="#111" stroke-width="1.2"/>
<text x="86.60" y="468.90" font-size="8.4" text-anchor="middle" fill="#222" stroke="#222" stroke-width="0.25">30</text>
<line x1="101.50" y1="454.50" x2="101.50" y2="457.30" stroke="#111" stroke-width="1.2"/>
<text x="101.50" y="468.90" font-size="8.4" text-anchor="middle" fill="#222" stroke="#222" stroke-width="0.25">40</text>
<text x="15.60" y="412.30" font-size="9.1" text-anchor="middle" fill="#222" stroke="#222" stroke-width="0.25" transform="rotate(-90 15.60 412.30)">FIIa (nM)</text>
<text x="0" y="0" font-size="10.0" text-anchor="middle" fill="#222" stroke="#222" stroke-width="0.25" transform="translate(72.40 480.60) scale(0.935 1)">Time (min)</text>
<path d="M41.90,454.50 L46.00,454.50 L51.97,454.51 L58.90,454.52 L65.85,454.53 L71.92,454.52 L76.17,454.50 L78.41,454.47 L79.32,454.45 L79.34,454.41 L78.90,454.36 L78.45,454.28 L78.40,454.16 L78.70,454.01 L78.96,453.86 L79.20,453.67 L79.43,453.44 L79.66,453.15 L79.90,452.80 L80.14,452.37 L80.39,451.87 L80.64,451.33 L80.89,450.73 L81.14,450.08 L81.39,449.39 L81.63,448.64 L81.88,447.84 L82.13,446.98 L82.38,446.09 L82.63,445.19 L82.88,444.28 L83.12,443.34 L83.37,442.37 L83.62,441.38 L83.87,440.39 L84.12,439.42 L84.37,438.48 L84.61,437.58 L84.86,436.70 L85.11,435.84 L85.36,435.00 L85.61,434.18 L85.85,433.37 L86.10,432.58 L86.35,431.79 L86.60,431.03 L86.85,430.29 L87.10,429.59 L87.34,428.94 L87.59,428.33 L87.84,427.77 L88.09,427.24 L88.34,426.74 L88.59,426.29 L88.83,425.87 L89.08,425.49 L89.33,425.14 L89.58,424.83 L89.83,424.56 L90.08,424.34 L90.32,424.17 L90.57,424.05 L90.82,423.99 L91.07,423.98 L91.32,424.00 L91.57,424.07 L91.81,424.17 L92.06,424.31 L92.31,424.48 L92.56,424.70 L92.81,424.95 L93.06,425.23 L93.31,425.53 L93.55,425.87 L93.80,426.24 L94.05,426.64 L94.30,427.06 L94.55,427.49 L94.80,427.92 L95.04,428.35 L95.29,428.79 L95.54,429.24 L95.79,429.70 L96.04,430.17 L96.28,430.64 L96.53,431.14 L96.78,431.64 L97.03,432.16 L97.28,432.68 L97.53,433.20 L97.78,433.71 L98.03,434.23 L98.29,434.76 L98.55,435.29 L98.80,435.81 L99.04,436.31 L99.27,436.78 L99.48,437.24 L99.68,437.71 L99.88,438.16 L100.05,438.57 L100.20,438.91 L100.31,439.16" stroke="#284578" stroke-width="2.2" fill="none" stroke-linejoin="round" stroke-linecap="round"/>
<line x1="41.90" y1="454.20" x2="102.99" y2="454.20" stroke="#9a1a3a" stroke-width="2.3"/>
<text x="67.50" y="408.60" font-size="7.9" text-anchor="middle" fill="#3a5a90" stroke="#3a5a90" stroke-width="0.25">no hirugen</text>
<line x1="80.30" y1="414.60" x2="84.93" y2="419.29" stroke="#284578" stroke-width="1.4"/>
<path d="M88.80,423.20 L82.31,421.18 L85.43,419.79 L86.86,416.68 Z" fill="#284578"/>
<text x="63.40" y="433.80" font-size="7.9" text-anchor="middle" fill="#a8204a" stroke="#a8204a" stroke-width="0.25">hirugen</text>
<line x1="66.60" y1="437.50" x2="69.67" y2="446.78" stroke="#9a1a3a" stroke-width="1.4"/>
<path d="M71.40,452.00 L66.48,447.31 L69.89,447.44 L72.55,445.30 Z" fill="#9a1a3a"/>
<text x="125.10" y="344.70" font-size="12.0" text-anchor="start" fill="#000" stroke="#000" stroke-width="0.25" font-weight="bold">H</text>
<text x="188.40" y="360.90" font-size="10.2" text-anchor="middle" fill="#222" stroke="#222" stroke-width="0.25">TF+a-FVIII</text>
<text x="262.40" y="360.90" font-size="10.1" text-anchor="middle" fill="#222" stroke="#222" stroke-width="0.25">TF no a-FVIII</text>
<line x1="156.40" y1="366.40" x2="156.40" y2="454.90" stroke="#111" stroke-width="1.45"/>
<line x1="153.40" y1="369.10" x2="156.40" y2="369.10" stroke="#111" stroke-width="1.2"/>
<text x="150.10" y="372.00" font-size="8.4" text-anchor="end" fill="#222" stroke="#222" stroke-width="0.25">250</text>
<line x1="153.40" y1="386.14" x2="156.40" y2="386.14" stroke="#111" stroke-width="1.2"/>
<text x="150.10" y="389.04" font-size="8.4" text-anchor="end" fill="#222" stroke="#222" stroke-width="0.25">200</text>
<line x1="153.40" y1="403.18" x2="156.40" y2="403.18" stroke="#111" stroke-width="1.2"/>
<text x="150.10" y="406.08" font-size="8.4" text-anchor="end" fill="#222" stroke="#222" stroke-width="0.25">150</text>
<line x1="153.40" y1="420.22" x2="156.40" y2="420.22" stroke="#111" stroke-width="1.2"/>
<text x="150.10" y="423.12" font-size="8.4" text-anchor="end" fill="#222" stroke="#222" stroke-width="0.25">100</text>
<line x1="153.40" y1="437.26" x2="156.40" y2="437.26" stroke="#111" stroke-width="1.2"/>
<text x="150.10" y="440.16" font-size="8.4" text-anchor="end" fill="#222" stroke="#222" stroke-width="0.25">50</text>
<line x1="153.40" y1="454.30" x2="156.40" y2="454.30" stroke="#111" stroke-width="1.2"/>
<text x="150.10" y="457.20" font-size="8.4" text-anchor="end" fill="#222" stroke="#222" stroke-width="0.25">0</text>
<line x1="155.80" y1="454.30" x2="219.10" y2="454.30" stroke="#111" stroke-width="1.45"/>
<line x1="156.40" y1="454.30" x2="156.40" y2="457.10" stroke="#111" stroke-width="1.2"/>
<text x="156.40" y="468.90" font-size="8.4" text-anchor="middle" fill="#222" stroke="#222" stroke-width="0.25">0</text>
<line x1="171.30" y1="454.30" x2="171.30" y2="457.10" stroke="#111" stroke-width="1.2"/>
<text x="171.30" y="468.90" font-size="8.4" text-anchor="middle" fill="#222" stroke="#222" stroke-width="0.25">10</text>
<line x1="186.20" y1="454.30" x2="186.20" y2="457.10" stroke="#111" stroke-width="1.2"/>
<text x="186.20" y="468.90" font-size="8.4" text-anchor="middle" fill="#222" stroke="#222" stroke-width="0.25">20</text>
<line x1="201.10" y1="454.30" x2="201.10" y2="457.10" stroke="#111" stroke-width="1.2"/>
<text x="201.10" y="468.90" font-size="8.4" text-anchor="middle" fill="#222" stroke="#222" stroke-width="0.25">30</text>
<line x1="216.00" y1="454.30" x2="216.00" y2="457.10" stroke="#111" stroke-width="1.2"/>
<text x="216.00" y="468.90" font-size="8.4" text-anchor="middle" fill="#222" stroke="#222" stroke-width="0.25">40</text>
<line x1="230.80" y1="366.40" x2="230.80" y2="454.90" stroke="#111" stroke-width="1.45"/>
<line x1="227.80" y1="369.10" x2="230.80" y2="369.10" stroke="#111" stroke-width="1.2"/>
<line x1="227.80" y1="386.14" x2="230.80" y2="386.14" stroke="#111" stroke-width="1.2"/>
<line x1="227.80" y1="403.18" x2="230.80" y2="403.18" stroke="#111" stroke-width="1.2"/>
<line x1="227.80" y1="420.22" x2="230.80" y2="420.22" stroke="#111" stroke-width="1.2"/>
<line x1="227.80" y1="437.26" x2="230.80" y2="437.26" stroke="#111" stroke-width="1.2"/>
<line x1="227.80" y1="454.30" x2="230.80" y2="454.30" stroke="#111" stroke-width="1.2"/>
<line x1="230.20" y1="454.30" x2="293.50" y2="454.30" stroke="#111" stroke-width="1.45"/>
<line x1="230.80" y1="454.30" x2="230.80" y2="457.10" stroke="#111" stroke-width="1.2"/>
<text x="230.80" y="468.90" font-size="8.4" text-anchor="middle" fill="#222" stroke="#222" stroke-width="0.25">0</text>
<line x1="245.70" y1="454.30" x2="245.70" y2="457.10" stroke="#111" stroke-width="1.2"/>
<text x="245.70" y="468.90" font-size="8.4" text-anchor="middle" fill="#222" stroke="#222" stroke-width="0.25">10</text>
<line x1="260.60" y1="454.30" x2="260.60" y2="457.10" stroke="#111" stroke-width="1.2"/>
<text x="260.60" y="468.90" font-size="8.4" text-anchor="middle" fill="#222" stroke="#222" stroke-width="0.25">20</text>
<line x1="275.50" y1="454.30" x2="275.50" y2="457.10" stroke="#111" stroke-width="1.2"/>
<text x="275.50" y="468.90" font-size="8.4" text-anchor="middle" fill="#222" stroke="#222" stroke-width="0.25">30</text>
<line x1="290.40" y1="454.30" x2="290.40" y2="457.10" stroke="#111" stroke-width="1.2"/>
<text x="290.40" y="468.90" font-size="8.4" text-anchor="middle" fill="#222" stroke="#222" stroke-width="0.25">40</text>
<text x="130.80" y="412.30" font-size="9.1" text-anchor="middle" fill="#222" stroke="#222" stroke-width="0.25" transform="rotate(-90 130.80 412.30)">FIIa (nM)</text>
<text x="0" y="0" font-size="10.0" text-anchor="middle" fill="#222" stroke="#222" stroke-width="0.25" transform="translate(221.20 482.10) scale(0.935 1)">Time (min)</text>
<path d="M178.75,454.30 L179.07,454.27 L179.52,454.25 L180.05,454.21 L180.63,454.16 L181.20,454.08 L181.73,453.96 L182.23,453.80 L182.72,453.61 L183.22,453.38 L183.72,453.14 L184.21,452.87 L184.71,452.60 L185.21,452.29 L185.70,451.96 L186.20,451.62 L186.70,451.26 L187.19,450.90 L187.69,450.55 L188.19,450.21 L188.68,449.86 L189.18,449.51 L189.68,449.16 L190.17,448.83 L190.67,448.51 L191.17,448.19 L191.66,447.89 L192.16,447.59 L192.66,447.31 L193.15,447.04 L193.65,446.80 L194.15,446.59 L194.64,446.40 L195.14,446.23 L195.64,446.07 L196.13,445.92 L196.63,445.78 L197.13,445.64 L197.62,445.51 L198.12,445.40 L198.62,445.29 L199.11,445.19 L199.61,445.10 L200.11,445.02 L200.60,444.95 L201.10,444.89 L201.60,444.83 L202.09,444.79 L202.59,444.76 L203.10,444.73 L203.64,444.72 L204.17,444.72 L204.69,444.72 L205.16,444.73 L205.57,444.76 L205.90,444.79 L206.18,444.82 L206.41,444.86 L206.62,444.92 L206.83,445.00 L207.06,445.10 L207.31,445.25 L207.56,445.46 L207.81,445.68 L208.05,445.89 L208.30,446.05 L208.55,446.12 L208.80,446.07 L209.05,445.93 L209.30,445.73 L209.54,445.52 L209.79,445.35 L210.04,445.27 L210.29,445.29 L210.54,445.38 L210.79,445.51 L211.03,445.65 L211.28,445.75 L211.53,445.78 L211.78,445.72 L212.03,445.60 L212.28,445.45 L212.52,445.29 L212.77,445.17 L213.02,445.10 L213.29,445.10 L213.57,445.15 L213.86,445.23 L214.12,445.31 L214.35,445.39 L214.51,445.44" stroke="#c3c3c3" stroke-width="2.0" fill="none" stroke-linejoin="round" stroke-linecap="round"/>
<line x1="156.40" y1="454.00" x2="214.51" y2="454.00" stroke="#284578" stroke-width="2.4"/>
<text x="174.30" y="432.20" font-size="7.8" text-anchor="middle" fill="#bdbdbd" stroke="#bdbdbd" stroke-width="0.25">WT</text>
<line x1="174.00" y1="435.50" x2="179.67" y2="443.50" stroke="#bdbdbd" stroke-width="1.3"/>
<path d="M182.50,447.50 L176.93,444.83 L180.07,444.07 L181.83,441.36 Z" fill="#bdbdbd"/>
<text x="201.60" y="431.60" font-size="8.2" text-anchor="middle" fill="#374e80" stroke="#374e80" stroke-width="0.25">E154A</text>
<line x1="202.00" y1="434.00" x2="205.53" y2="446.70" stroke="#203c6c" stroke-width="1.4"/>
<path d="M207.00,452.00 L202.31,447.08 L205.72,447.38 L208.48,445.36 Z" fill="#203c6c"/>
<path d="M230.80,454.30 L232.85,454.31 L235.82,454.34 L239.27,454.36 L242.75,454.38 L245.79,454.36 L247.94,454.30 L249.09,454.21 L249.60,454.11 L249.68,453.98 L249.53,453.81 L249.37,453.58 L249.43,453.28 L249.64,452.91 L249.84,452.50 L250.03,452.02 L250.22,451.49 L250.41,450.88 L250.62,450.21 L250.83,449.43 L251.05,448.53 L251.27,447.57 L251.49,446.59 L251.72,445.63 L251.96,444.76 L252.20,444.02 L252.45,443.41 L252.71,442.82 L252.97,442.17 L253.22,441.37 L253.45,440.33 L253.66,439.00 L253.87,437.46 L254.06,435.77 L254.25,433.99 L254.44,432.19 L254.64,430.44 L254.83,428.73 L255.02,427.00 L255.21,425.25 L255.40,423.48 L255.61,421.69 L255.83,419.88 L256.08,417.95 L256.36,415.87 L256.65,413.77 L256.94,411.78 L257.22,410.02 L257.47,408.63 L257.70,407.66 L257.90,407.00 L258.09,406.59 L258.28,406.32 L258.47,406.12 L258.66,405.91 L258.86,405.70 L259.06,405.58 L259.26,405.52 L259.46,405.52 L259.66,405.54 L259.86,405.57 L260.05,405.61 L260.25,405.68 L260.45,405.78 L260.65,405.91 L260.85,406.06 L261.05,406.25 L261.24,406.41 L261.43,406.55 L261.62,406.72 L261.82,406.97 L262.02,407.36 L262.24,407.95 L262.46,408.76 L262.67,409.74 L262.90,410.87 L263.14,412.10 L263.42,413.41 L263.73,414.77 L264.08,416.20 L264.47,417.75 L264.89,419.37 L265.33,421.03 L265.79,422.69 L266.26,424.31 L266.74,425.94 L267.23,427.60 L267.74,429.27 L268.27,430.90 L268.82,432.44 L269.39,433.85 L269.98,435.13 L270.59,436.30 L271.23,437.39 L271.88,438.41 L272.56,439.38 L273.26,440.33 L274.02,441.25 L274.84,442.14 L275.68,442.99 L276.51,443.77 L277.31,444.48 L278.03,445.10 L278.69,445.61 L279.29,446.02 L279.86,446.36 L280.40,446.64 L280.93,446.89 L281.46,447.14 L281.97,447.36 L282.45,447.53 L282.91,447.68 L283.39,447.81 L283.89,447.97 L284.44,448.17 L285.10,448.43 L285.85,448.75 L286.64,449.08 L287.38,449.40 L288.01,449.68 L288.46,449.87" stroke="#c3c3c3" stroke-width="2.3" fill="none" stroke-linejoin="round" stroke-linecap="round"/>
<path d="M230.80,454.30 L234.07,454.31 L238.85,454.34 L244.38,454.36 L249.92,454.38 L254.73,454.36 L258.07,454.30 L259.73,454.21 L260.29,454.11 L260.12,453.98 L259.58,453.81 L259.07,453.58 L258.96,453.28 L259.19,452.90 L259.46,452.46 L259.74,451.96 L260.04,451.41 L260.33,450.82 L260.60,450.21 L260.86,449.56 L261.10,448.87 L261.34,448.14 L261.59,447.38 L261.83,446.59 L262.09,445.78 L262.35,445.01 L262.63,444.30 L262.90,443.56 L263.18,442.71 L263.45,441.66 L263.73,440.33 L264.00,438.68 L264.28,436.78 L264.55,434.68 L264.82,432.44 L265.09,430.10 L265.37,427.72 L265.64,425.18 L265.93,422.42 L266.21,419.56 L266.48,416.74 L266.75,414.07 L267.01,411.70 L267.25,409.61 L267.49,407.69 L267.71,405.93 L267.93,404.32 L268.15,402.84 L268.35,401.48 L268.53,400.25 L268.70,399.17 L268.85,398.22 L269.01,397.39 L269.19,396.66 L269.39,396.02 L269.63,395.49 L269.91,395.09 L270.20,394.79 L270.49,394.57 L270.78,394.42 L271.03,394.32 L271.26,394.28 L271.47,394.31 L271.66,394.40 L271.85,394.56 L272.04,394.76 L272.22,395.00 L272.40,395.20 L272.56,395.34 L272.72,395.53 L272.88,395.87 L273.06,396.46 L273.27,397.39 L273.51,398.80 L273.78,400.64 L274.08,402.73 L274.37,404.88 L274.65,406.91 L274.90,408.63 L275.13,410.04 L275.33,411.27 L275.53,412.38 L275.72,413.42 L275.90,414.42 L276.10,415.45 L276.28,416.41 L276.45,417.25 L276.62,418.07 L276.80,418.95 L277.02,419.97 L277.29,421.24 L277.62,422.88 L277.99,424.83 L278.41,426.93 L278.83,429.02 L279.26,430.93 L279.67,432.49 L280.07,433.67 L280.48,434.58 L280.89,435.32 L281.29,435.96 L281.68,436.58 L282.06,437.26 L282.40,437.98 L282.73,438.69 L283.05,439.37 L283.36,440.04 L283.68,440.70 L283.99,441.35 L284.32,442.02 L284.65,442.70 L284.98,443.37 L285.31,444.01 L285.62,444.60 L285.93,445.10 L286.23,445.55 L286.53,445.97 L286.81,446.33 L287.09,446.61 L287.34,446.78 L287.57,446.80 L287.77,446.63 L287.94,446.27 L288.09,445.80 L288.23,445.29 L288.35,444.80 L288.46,444.42 L288.57,444.11 L288.66,443.84 L288.74,443.59 L288.81,443.37 L288.87,443.19 L288.91,443.05" stroke="#203c6c" stroke-width="2.2" fill="none" stroke-linejoin="round" stroke-linecap="round"/>
<text x="246.10" y="399.30" font-size="7.8" text-anchor="middle" fill="#bdbdbd" stroke="#bdbdbd" stroke-width="0.25">WT</text>
<line x1="250.60" y1="400.00" x2="255.34" y2="405.34" stroke="#bdbdbd" stroke-width="1.3"/>
<path d="M258.60,409.00 L252.77,406.96 L255.81,405.86 L257.25,402.97 Z" fill="#bdbdbd"/>
<text x="262.40" y="384.20" font-size="8.2" text-anchor="middle" fill="#374e80" stroke="#374e80" stroke-width="0.25">E154A</text>
<line x1="261.30" y1="385.40" x2="265.18" y2="390.29" stroke="#203c6c" stroke-width="1.4"/>
<path d="M268.60,394.60 L262.36,391.89 L265.62,390.84 L267.38,387.91 Z" fill="#203c6c"/>
<text x="312.60" y="344.70" font-size="12.0" text-anchor="start" fill="#000" stroke="#000" stroke-width="0.25" font-weight="bold">I</text>
<text x="373.20" y="360.90" font-size="10.2" text-anchor="middle" fill="#222" stroke="#222" stroke-width="0.25">TF+FVa+a-FVIII</text>
<text x="459.10" y="360.90" font-size="10.2" text-anchor="middle" fill="#222" stroke="#222" stroke-width="0.25">TF+FVa no a-FVIII</text>
<line x1="341.80" y1="370.90" x2="341.80" y2="455.10" stroke="#111" stroke-width="1.45"/>
<line x1="338.80" y1="373.30" x2="341.80" y2="373.30" stroke="#111" stroke-width="1.2"/>
<text x="335.50" y="376.20" font-size="8.4" text-anchor="end" fill="#222" stroke="#222" stroke-width="0.25">200</text>
<line x1="338.80" y1="393.60" x2="341.80" y2="393.60" stroke="#111" stroke-width="1.2"/>
<text x="335.50" y="396.50" font-size="8.4" text-anchor="end" fill="#222" stroke="#222" stroke-width="0.25">150</text>
<line x1="338.80" y1="413.90" x2="341.80" y2="413.90" stroke="#111" stroke-width="1.2"/>
<text x="335.50" y="416.80" font-size="8.4" text-anchor="end" fill="#222" stroke="#222" stroke-width="0.25">100</text>
<line x1="338.80" y1="434.20" x2="341.80" y2="434.20" stroke="#111" stroke-width="1.2"/>
<text x="335.50" y="437.10" font-size="8.4" text-anchor="end" fill="#222" stroke="#222" stroke-width="0.25">50</text>
<line x1="338.80" y1="454.50" x2="341.80" y2="454.50" stroke="#111" stroke-width="1.2"/>
<text x="335.50" y="457.40" font-size="8.4" text-anchor="end" fill="#222" stroke="#222" stroke-width="0.25">0</text>
<line x1="341.20" y1="454.50" x2="404.10" y2="454.50" stroke="#111" stroke-width="1.45"/>
<line x1="341.80" y1="454.50" x2="341.80" y2="457.30" stroke="#111" stroke-width="1.2"/>
<text x="341.80" y="468.90" font-size="8.4" text-anchor="middle" fill="#222" stroke="#222" stroke-width="0.25">0</text>
<line x1="356.60" y1="454.50" x2="356.60" y2="457.30" stroke="#111" stroke-width="1.2"/>
<text x="356.60" y="468.90" font-size="8.4" text-anchor="middle" fill="#222" stroke="#222" stroke-width="0.25">10</text>
<line x1="371.40" y1="454.50" x2="371.40" y2="457.30" stroke="#111" stroke-width="1.2"/>
<text x="371.40" y="468.90" font-size="8.4" text-anchor="middle" fill="#222" stroke="#222" stroke-width="0.25">20</text>
<line x1="386.20" y1="454.50" x2="386.20" y2="457.30" stroke="#111" stroke-width="1.2"/>
<text x="386.20" y="468.90" font-size="8.4" text-anchor="middle" fill="#222" stroke="#222" stroke-width="0.25">30</text>
<line x1="401.00" y1="454.50" x2="401.00" y2="457.30" stroke="#111" stroke-width="1.2"/>
<text x="401.00" y="468.90" font-size="8.4" text-anchor="middle" fill="#222" stroke="#222" stroke-width="0.25">40</text>
<line x1="427.20" y1="367.10" x2="427.20" y2="455.10" stroke="#111" stroke-width="1.45"/>
<line x1="424.20" y1="369.75" x2="427.20" y2="369.75" stroke="#111" stroke-width="1.2"/>
<line x1="424.20" y1="386.70" x2="427.20" y2="386.70" stroke="#111" stroke-width="1.2"/>
<line x1="424.20" y1="403.65" x2="427.20" y2="403.65" stroke="#111" stroke-width="1.2"/>
<line x1="424.20" y1="420.60" x2="427.20" y2="420.60" stroke="#111" stroke-width="1.2"/>
<line x1="424.20" y1="437.55" x2="427.20" y2="437.55" stroke="#111" stroke-width="1.2"/>
<line x1="424.20" y1="454.50" x2="427.20" y2="454.50" stroke="#111" stroke-width="1.2"/>
<line x1="426.60" y1="454.50" x2="489.50" y2="454.50" stroke="#111" stroke-width="1.45"/>
<line x1="427.20" y1="454.50" x2="427.20" y2="457.30" stroke="#111" stroke-width="1.2"/>
<text x="427.20" y="468.90" font-size="8.4" text-anchor="middle" fill="#222" stroke="#222" stroke-width="0.25">0</text>
<line x1="442.00" y1="454.50" x2="442.00" y2="457.30" stroke="#111" stroke-width="1.2"/>
<text x="442.00" y="468.90" font-size="8.4" text-anchor="middle" fill="#222" stroke="#222" stroke-width="0.25">10</text>
<line x1="456.80" y1="454.50" x2="456.80" y2="457.30" stroke="#111" stroke-width="1.2"/>
<text x="456.80" y="468.90" font-size="8.4" text-anchor="middle" fill="#222" stroke="#222" stroke-width="0.25">20</text>
<line x1="471.60" y1="454.50" x2="471.60" y2="457.30" stroke="#111" stroke-width="1.2"/>
<text x="471.60" y="468.90" font-size="8.4" text-anchor="middle" fill="#222" stroke="#222" stroke-width="0.25">30</text>
<line x1="486.40" y1="454.50" x2="486.40" y2="457.30" stroke="#111" stroke-width="1.2"/>
<text x="486.40" y="468.90" font-size="8.4" text-anchor="middle" fill="#222" stroke="#222" stroke-width="0.25">40</text>
<text x="315.00" y="412.00" font-size="9.1" text-anchor="middle" fill="#222" stroke="#222" stroke-width="0.25" transform="rotate(-90 315.00 412.00)">FIIa (nM)</text>
<text x="0" y="0" font-size="10.0" text-anchor="middle" fill="#222" stroke="#222" stroke-width="0.25" transform="translate(413.00 482.10) scale(0.935 1)">Time (min)</text>
<path d="M345.50,454.50 L345.65,454.40 L345.86,454.27 L346.10,454.12 L346.38,453.91 L346.67,453.64 L346.98,453.28 L347.30,452.83 L347.64,452.30 L348.00,451.71 L348.38,451.06 L348.78,450.36 L349.20,449.63 L349.65,448.82 L350.13,447.91 L350.63,446.96 L351.15,446.02 L351.66,445.13 L352.16,444.35 L352.65,443.68 L353.15,443.07 L353.64,442.52 L354.13,442.02 L354.63,441.55 L355.12,441.10 L355.61,440.68 L356.11,440.31 L356.60,439.96 L357.09,439.64 L357.59,439.35 L358.08,439.07 L358.57,438.81 L359.07,438.58 L359.56,438.37 L360.05,438.18 L360.55,438.01 L361.04,437.85 L361.53,437.71 L362.03,437.58 L362.52,437.47 L363.01,437.38 L363.51,437.30 L364.00,437.24 L364.49,437.20 L364.99,437.16 L365.48,437.14 L365.97,437.15 L366.47,437.18 L366.96,437.25 L367.45,437.35 L367.95,437.49 L368.44,437.66 L368.93,437.85 L369.43,438.06 L369.92,438.26 L370.41,438.47 L370.91,438.70 L371.40,438.95 L371.89,439.19 L372.39,439.44 L372.88,439.68 L373.37,439.92 L373.87,440.15 L374.36,440.38 L374.85,440.61 L375.35,440.85 L375.84,441.10 L376.33,441.36 L376.83,441.63 L377.32,441.90 L377.81,442.18 L378.31,442.45 L378.80,442.73 L379.29,443.00 L379.79,443.27 L380.28,443.54 L380.77,443.81 L381.27,444.08 L381.76,444.35 L382.25,444.63 L382.75,444.91 L383.24,445.20 L383.73,445.48 L384.23,445.74 L384.72,445.97 L385.21,446.18 L385.71,446.36 L386.20,446.53 L386.69,446.69 L387.19,446.84 L387.68,446.99 L388.17,447.14 L388.67,447.27 L389.16,447.41 L389.65,447.54 L390.15,447.67 L390.64,447.80 L391.13,447.94 L391.63,448.09 L392.12,448.23 L392.61,448.37 L393.11,448.50 L393.60,448.61 L394.09,448.70 L394.59,448.78 L395.08,448.84 L395.57,448.90 L396.07,448.96 L396.56,449.02 L397.09,449.09 L397.66,449.17 L398.22,449.25 L398.75,449.32 L399.20,449.38 L399.52,449.42" stroke="#c3c3c3" stroke-width="2.0" fill="none" stroke-linejoin="round" stroke-linecap="round"/>
<path d="M341.80,454.50 L342.61,454.41 L343.72,454.29 L345.04,454.14 L346.46,453.98 L347.88,453.83 L349.20,453.69 L350.43,453.56 L351.67,453.44 L352.90,453.31 L354.13,453.19 L355.37,453.08 L356.60,452.96 L357.83,452.84 L359.07,452.72 L360.30,452.60 L361.53,452.49 L362.77,452.38 L364.00,452.27 L365.23,452.16 L366.47,452.05 L367.70,451.95 L368.93,451.85 L370.17,451.75 L371.40,451.66 L372.63,451.57 L373.87,451.48 L375.10,451.39 L376.33,451.31 L377.57,451.24 L378.80,451.17 L380.03,451.12 L381.27,451.07 L382.50,451.03 L383.73,451.00 L384.97,450.96 L386.20,450.93 L387.48,450.89 L388.83,450.86 L390.18,450.83 L391.46,450.80 L392.62,450.77 L393.60,450.72 L394.37,450.66 L394.97,450.59 L395.45,450.50 L395.85,450.43 L396.20,450.38 L396.56,450.36 L396.89,450.39 L397.16,450.46 L397.39,450.55 L397.60,450.65 L397.81,450.73 L398.04,450.76 L398.30,450.76 L398.59,450.72 L398.87,450.67 L399.14,450.61 L399.36,450.56 L399.52,450.52" stroke="#203c6c" stroke-width="1.8" fill="none" stroke-linejoin="round" stroke-linecap="round"/>
<text x="355.50" y="423.20" font-size="7.8" text-anchor="middle" fill="#bdbdbd" stroke="#bdbdbd" stroke-width="0.25">WT</text>
<line x1="357.00" y1="425.00" x2="358.76" y2="431.76" stroke="#bdbdbd" stroke-width="1.3"/>
<path d="M360.00,436.50 L355.73,432.03 L358.94,432.44 L361.54,430.52 Z" fill="#bdbdbd"/>
<text x="386.20" y="433.30" font-size="8.2" text-anchor="middle" fill="#374e80" stroke="#374e80" stroke-width="0.25">E154A</text>
<line x1="386.00" y1="435.00" x2="381.10" y2="444.15" stroke="#203c6c" stroke-width="1.4"/>
<path d="M378.50,449.00 L378.51,442.20 L380.77,444.77 L384.15,445.22 Z" fill="#203c6c"/>
<path d="M427.20,454.50 L427.57,454.52 L428.11,454.58 L428.74,454.63 L429.38,454.65 L429.98,454.62 L430.46,454.50 L430.81,454.34 L431.08,454.17 L431.31,453.95 L431.51,453.62 L431.71,453.14 L431.94,452.47 L432.18,451.62 L432.42,450.63 L432.67,449.50 L432.91,448.20 L433.16,446.71 L433.42,445.01 L433.68,443.04 L433.95,440.80 L434.23,438.38 L434.51,435.84 L434.78,433.28 L435.04,430.77 L435.30,428.25 L435.55,425.63 L435.79,422.99 L436.04,420.39 L436.28,417.87 L436.52,415.51 L436.77,413.29 L437.02,411.15 L437.26,409.10 L437.51,407.15 L437.76,405.33 L438.00,403.65 L438.25,402.11 L438.50,400.71 L438.74,399.43 L438.99,398.26 L439.24,397.19 L439.48,396.19 L439.73,395.28 L439.98,394.46 L440.23,393.73 L440.48,393.10 L440.73,392.57 L440.96,392.12 L441.19,391.78 L441.42,391.55 L441.64,391.40 L441.86,391.35 L442.08,391.36 L442.30,391.45 L442.52,391.59 L442.74,391.81 L442.96,392.10 L443.18,392.48 L443.41,392.93 L443.63,393.48 L443.85,394.11 L444.07,394.82 L444.28,395.62 L444.51,396.51 L444.73,397.49 L444.96,398.57 L445.20,399.78 L445.44,401.13 L445.69,402.57 L445.94,404.06 L446.19,405.57 L446.44,407.04 L446.69,408.50 L446.93,409.98 L447.18,411.47 L447.43,412.95 L447.67,414.42 L447.92,415.85 L448.17,417.26 L448.41,418.67 L448.66,420.05 L448.91,421.40 L449.15,422.72 L449.40,423.99 L449.65,425.21 L449.89,426.40 L450.14,427.55 L450.39,428.66 L450.63,429.73 L450.88,430.77 L451.13,431.77 L451.37,432.73 L451.62,433.65 L451.87,434.54 L452.11,435.38 L452.36,436.19 L452.61,436.96 L452.85,437.69 L453.10,438.38 L453.35,439.03 L453.59,439.66 L453.84,440.26 L454.09,440.84 L454.33,441.38 L454.58,441.89 L454.83,442.38 L455.07,442.86 L455.32,443.31 L455.56,443.75 L455.79,444.15 L456.01,444.54 L456.25,444.92 L456.51,445.30 L456.80,445.69 L457.11,446.09 L457.43,446.49 L457.77,446.89 L458.14,447.29 L458.56,447.68 L459.02,448.06 L459.49,448.42 L459.95,448.77 L460.45,449.12 L461.05,449.45 L461.79,449.78 L462.72,450.09 L463.83,450.41 L465.08,450.72 L466.47,451.03 L468.01,451.31 L469.72,451.57 L471.60,451.79 L473.90,451.97 L476.64,452.11 L479.55,452.23 L482.34,452.33 L484.72,452.40 L486.40,452.47" stroke="#c3c3c3" stroke-width="2.3" fill="none" stroke-linejoin="round" stroke-linecap="round"/>
<path d="M427.20,454.50 L427.77,454.52 L428.60,454.55 L429.57,454.58 L430.55,454.60 L431.43,454.58 L432.08,454.50 L432.49,454.39 L432.74,454.27 L432.88,454.12 L432.98,453.90 L433.09,453.58 L433.27,453.14 L433.51,452.59 L433.78,451.95 L434.05,451.22 L434.33,450.38 L434.62,449.44 L434.90,448.40 L435.18,447.27 L435.47,446.06 L435.77,444.75 L436.06,443.31 L436.34,441.71 L436.60,439.92 L436.83,437.90 L437.05,435.64 L437.26,433.23 L437.46,430.72 L437.66,428.18 L437.86,425.69 L438.05,423.19 L438.24,420.65 L438.43,418.08 L438.62,415.50 L438.82,412.95 L439.04,410.43 L439.28,407.87 L439.54,405.22 L439.81,402.59 L440.08,400.08 L440.35,397.80 L440.59,395.85 L440.82,394.26 L441.04,392.95 L441.25,391.87 L441.45,390.96 L441.65,390.16 L441.85,389.41 L442.05,388.75 L442.25,388.21 L442.45,387.78 L442.64,387.45 L442.84,387.21 L443.04,387.04 L443.23,386.96 L443.43,387.00 L443.62,387.12 L443.81,387.30 L444.01,387.51 L444.22,387.72 L444.44,387.91 L444.66,388.09 L444.89,388.31 L445.11,388.58 L445.34,388.94 L445.55,389.41 L445.76,390.00 L445.95,390.69 L446.15,391.47 L446.34,392.31 L446.54,393.21 L446.74,394.16 L446.93,395.08 L447.11,395.98 L447.29,396.93 L447.48,398.03 L447.71,399.33 L447.99,400.94 L448.34,402.97 L448.75,405.40 L449.19,408.04 L449.64,410.72 L450.06,413.27 L450.44,415.51 L450.76,417.46 L451.04,419.24 L451.31,420.90 L451.56,422.45 L451.81,423.92 L452.06,425.35 L452.31,426.69 L452.53,427.91 L452.75,429.05 L452.98,430.17 L453.24,431.29 L453.54,432.47 L453.91,433.72 L454.31,435.03 L454.75,436.34 L455.19,437.63 L455.64,438.83 L456.06,439.92 L456.46,440.90 L456.85,441.79 L457.24,442.61 L457.63,443.36 L458.03,444.05 L458.43,444.67 L458.84,445.21 L459.26,445.66 L459.68,446.05 L460.10,446.39 L460.52,446.71 L460.94,447.04 L461.37,447.38 L461.79,447.69 L462.22,448.00 L462.64,448.27 L463.06,448.52 L463.46,448.74 L463.86,448.90 L464.25,449.03 L464.63,449.12 L465.01,449.20 L465.36,449.29 L465.68,449.42 L465.97,449.58 L466.24,449.78 L466.48,449.99 L466.72,450.18 L466.94,450.34 L467.16,450.43 L467.37,450.44 L467.55,450.37 L467.73,450.26 L467.92,450.16 L468.12,450.09 L468.34,450.09 L468.60,450.19 L468.88,450.36 L469.17,450.56 L469.47,450.77 L469.79,450.96 L470.12,451.11 L470.46,451.20 L470.82,451.27 L471.18,451.31 L471.56,451.35 L471.95,451.39 L472.34,451.45 L472.76,451.54 L473.21,451.65 L473.66,451.78 L474.11,451.88 L474.51,451.96 L474.86,451.99 L475.12,451.95 L475.31,451.85 L475.47,451.71 L475.62,451.58 L475.80,451.48 L476.04,451.45 L476.36,451.51 L476.73,451.63 L477.13,451.79 L477.54,451.94 L477.92,452.07 L478.26,452.13 L478.54,452.10 L478.78,452.00 L479.00,451.87 L479.22,451.74 L479.46,451.65 L479.74,451.62 L480.08,451.68 L480.45,451.80 L480.85,451.96 L481.25,452.11 L481.62,452.24 L481.96,452.30 L482.25,452.29 L482.52,452.23 L482.76,452.15 L483.00,452.04 L483.22,451.92 L483.44,451.79 L483.66,451.63 L483.87,451.42 L484.08,451.21 L484.27,451.00 L484.46,450.85 L484.62,450.77 L484.78,450.79 L484.93,450.90 L485.07,451.05 L485.19,451.21 L485.29,451.36 L485.36,451.45" stroke="#203c6c" stroke-width="2.2" fill="none" stroke-linejoin="round" stroke-linecap="round"/>
<text x="434.20" y="386.20" font-size="7.8" text-anchor="middle" fill="#bdbdbd" stroke="#bdbdbd" stroke-width="0.25">WT</text>
<line x1="431.80" y1="388.50" x2="435.77" y2="399.78" stroke="#bdbdbd" stroke-width="1.3"/>
<path d="M437.40,404.40 L432.78,400.30 L436.00,400.44 L438.44,398.31 Z" fill="#bdbdbd"/>
<text x="469.00" y="387.20" font-size="8.2" text-anchor="middle" fill="#374e80" stroke="#374e80" stroke-width="0.25">E154A</text>
<line x1="456.60" y1="387.80" x2="452.07" y2="391.26" stroke="#203c6c" stroke-width="1.4"/>
<path d="M447.70,394.60 L450.52,388.41 L451.51,391.69 L454.41,393.50 Z" fill="#203c6c"/>
</svg>
<div id="frame"></div>
<div style="position:absolute;left:518px;top:0;width:1px;height:492px;background:#000;opacity:0.45"></div>
<div style="position:absolute;left:0;top:490px;width:520px;height:1px;background:#000;opacity:0.45"></div>
</body></html>
